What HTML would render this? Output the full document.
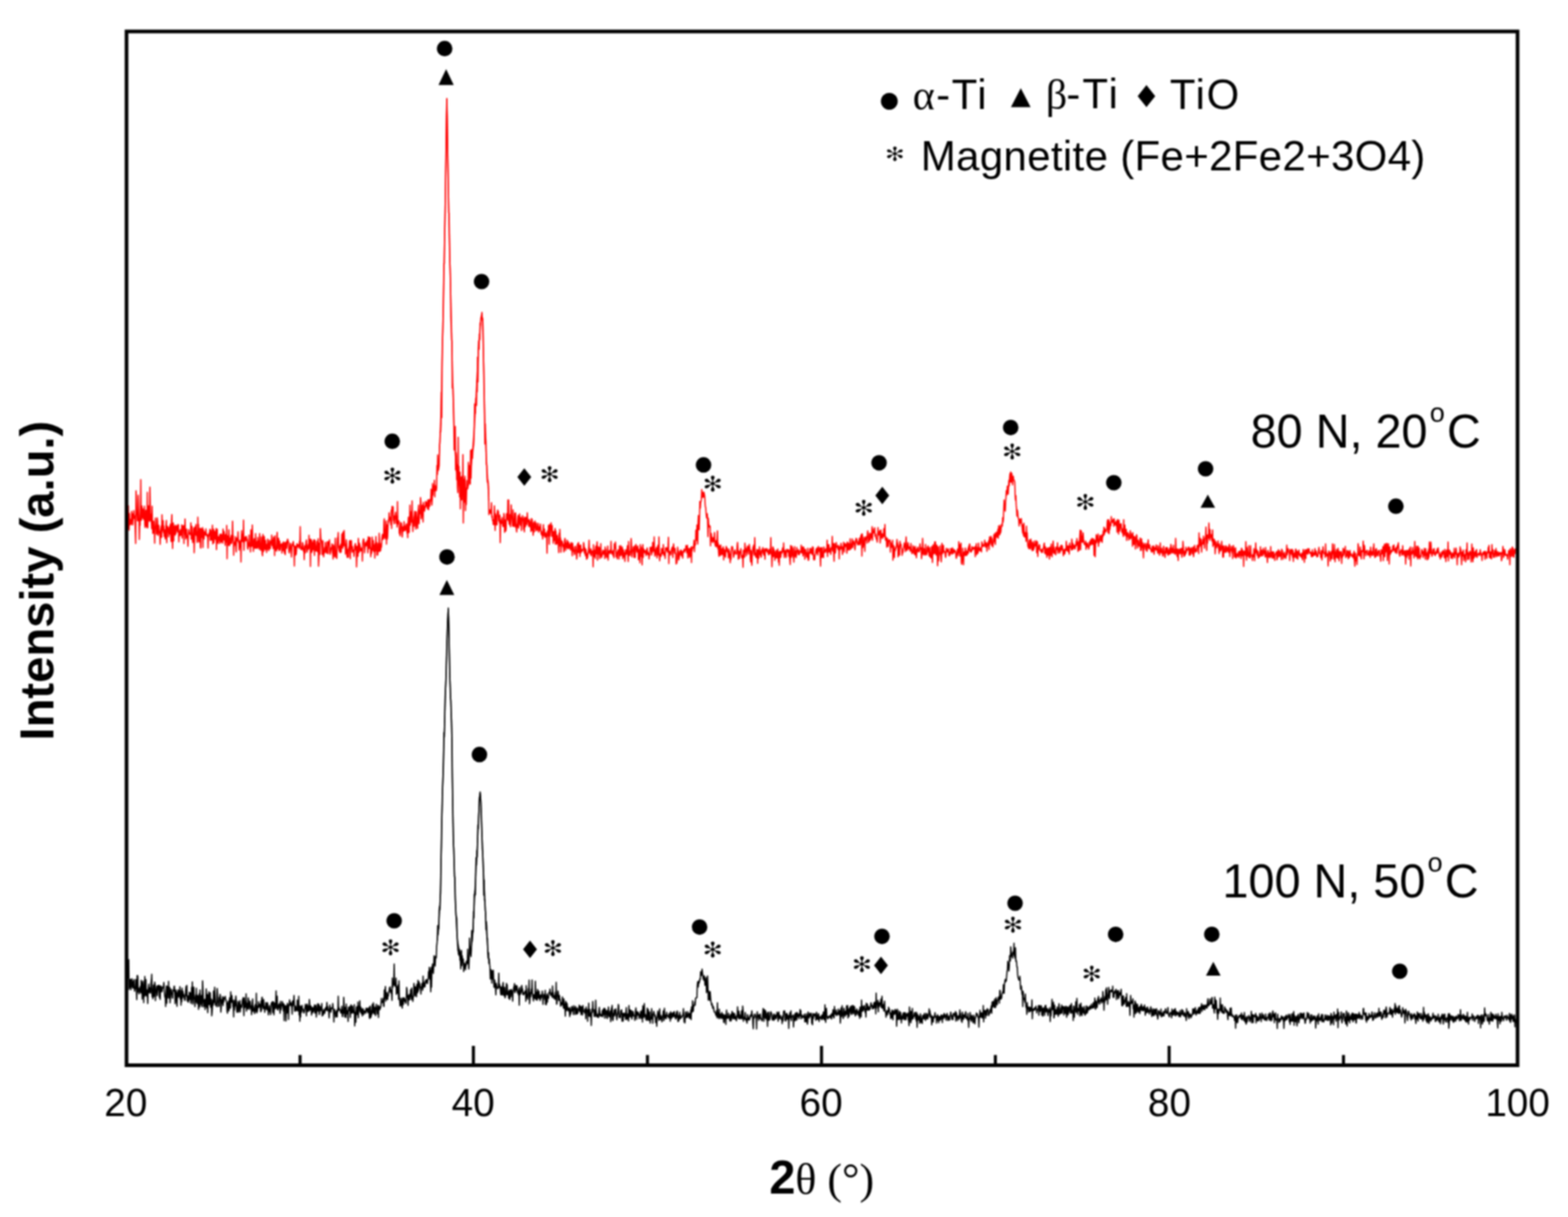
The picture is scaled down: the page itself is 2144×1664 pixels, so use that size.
<!DOCTYPE html>
<html><head><meta charset="utf-8"><title>XRD patterns</title>
<style>
html,body{margin:0;padding:0;background:#fff;width:2144px;height:1664px;overflow:hidden}
svg{display:block;filter:blur(1px)}
text{font-family:"Liberation Sans",Arial,sans-serif;fill:#000}
.tl{font-size:53px;text-anchor:middle}
.serif{font-family:"Liberation Serif","Times New Roman",serif}
.ast{font-size:31px;text-anchor:middle;dominant-baseline:central;font-family:"DejaVu Sans",sans-serif;stroke:#fff;stroke-width:0.45px}
.lg{font-size:57px}
.cond{font-size:64px}
</style></head>
<body>
<svg width="2144" height="1664" viewBox="0 0 2144 1664">
<rect x="0" y="0" width="2144" height="1664" fill="#fff"/>
<g fill="none" stroke-linejoin="round">
<polyline stroke="#ff0000" stroke-width="1.7" points="174.0,714.9 174.5,721.5 175.0,721.1 175.5,691.5 176.0,722.6 176.5,724.8 177.0,702.2 177.5,717.9 178.0,714.8 178.5,713.7 179.0,709.9 179.5,717.2 180.0,699.1 180.5,703.9 181.0,702.6 181.5,717.8 182.0,709.9 182.5,705.2 183.0,698.2 183.5,705.6 184.0,709.3 184.5,705.3 185.0,727.3 185.5,743.1 186.0,671.0 186.5,682.5 187.0,703.2 187.5,703.1 188.0,712.0 188.5,712.1 189.0,677.0 189.5,693.4 190.0,703.7 190.5,737.6 191.0,718.1 191.5,718.3 192.0,701.8 192.5,655.8 193.0,711.3 193.5,710.5 194.0,691.8 194.5,699.4 195.0,708.0 195.5,695.8 196.0,707.6 196.5,710.3 197.0,709.5 197.5,692.0 198.0,717.3 198.5,721.4 199.0,713.5 199.5,697.6 200.0,719.2 200.5,702.0 201.0,721.3 201.5,673.2 202.0,721.7 202.5,708.7 203.0,691.6 203.5,704.6 204.0,710.8 204.5,712.8 205.0,666.0 205.5,693.6 206.0,711.8 206.5,703.1 207.0,714.1 207.5,723.0 208.0,692.2 208.5,718.5 209.0,729.5 209.5,716.0 210.0,712.5 210.5,728.7 211.0,724.4 211.5,742.8 212.0,719.1 212.5,708.4 213.0,721.7 213.5,718.7 214.0,730.5 214.5,725.1 215.0,708.0 215.5,712.3 216.0,732.1 216.5,730.3 217.0,718.0 217.5,724.1 218.0,728.5 218.5,728.8 219.0,744.3 219.5,727.0 220.0,722.5 220.5,718.9 221.0,734.8 221.5,703.8 222.0,723.7 222.5,725.4 223.0,711.8 223.5,728.4 224.0,719.2 224.5,733.4 225.0,724.3 225.5,731.7 226.0,736.9 226.5,729.2 227.0,717.5 227.5,711.6 228.0,742.1 228.5,724.8 229.0,719.5 229.5,727.2 230.0,721.7 230.5,733.9 231.0,726.3 231.5,726.2 232.0,719.5 232.5,730.5 233.0,716.6 233.5,732.4 234.0,740.4 234.5,712.3 235.0,703.6 235.5,732.1 236.0,750.0 236.5,717.3 237.0,715.1 237.5,739.7 238.0,719.0 238.5,722.1 239.0,723.7 239.5,731.8 240.0,718.1 240.5,729.6 241.0,725.5 241.5,719.5 242.0,724.4 242.5,718.7 243.0,727.5 243.5,717.2 244.0,717.6 244.5,740.9 245.0,727.2 245.5,726.6 246.0,732.5 246.5,724.1 247.0,725.9 247.5,731.9 248.0,730.7 248.5,717.7 249.0,735.8 249.5,722.9 250.0,718.8 250.5,720.3 251.0,720.0 251.5,743.2 252.0,718.0 252.5,730.1 253.0,709.5 253.5,728.8 254.0,736.9 254.5,726.8 255.0,723.3 255.5,731.1 256.0,735.4 256.5,735.1 257.0,746.9 257.5,731.1 258.0,724.0 258.5,728.3 259.0,728.8 259.5,730.5 260.0,729.3 260.5,731.2 261.0,714.8 261.5,737.2 262.0,724.7 262.5,719.5 263.0,735.7 263.5,741.8 264.0,734.5 264.5,731.6 265.0,722.0 265.5,755.8 266.0,738.2 266.5,720.4 267.0,723.6 267.5,731.4 268.0,717.0 268.5,732.3 269.0,726.8 269.5,741.7 270.0,739.5 270.5,707.2 271.0,731.5 271.5,717.0 272.0,741.1 272.5,732.9 273.0,736.3 273.5,722.3 274.0,747.7 274.5,749.4 275.0,722.6 275.5,735.2 276.0,726.2 276.5,732.0 277.0,721.3 277.5,748.6 278.0,724.1 278.5,730.0 279.0,737.0 279.5,727.2 280.0,730.8 280.5,728.1 281.0,732.0 281.5,723.1 282.0,729.6 282.5,731.7 283.0,730.7 283.5,734.2 284.0,731.3 284.5,749.4 285.0,731.2 285.5,732.9 286.0,728.5 286.5,729.8 287.0,723.7 287.5,739.0 288.0,724.9 288.5,728.4 289.0,737.9 289.5,738.4 290.0,726.9 290.5,718.1 291.0,743.8 291.5,737.6 292.0,723.6 292.5,742.1 293.0,729.8 293.5,726.3 294.0,736.7 294.5,734.5 295.0,737.8 295.5,722.7 296.0,751.5 296.5,731.3 297.0,723.6 297.5,741.7 298.0,733.7 298.5,743.3 299.0,734.0 299.5,736.4 300.0,739.0 300.5,730.9 301.0,742.8 301.5,733.3 302.0,730.1 302.5,738.0 303.0,741.2 303.5,735.7 304.0,730.5 304.5,742.8 305.0,723.3 305.5,729.4 306.0,738.3 306.5,726.8 307.0,738.3 307.5,737.7 308.0,745.6 308.5,730.8 309.0,733.2 309.5,741.2 310.0,718.4 310.5,764.0 311.0,733.0 311.5,732.8 312.0,745.8 312.5,738.1 313.0,724.4 313.5,744.1 314.0,746.0 314.5,735.5 315.0,736.9 315.5,743.2 316.0,732.0 316.5,743.0 317.0,741.1 317.5,734.1 318.0,712.6 318.5,737.9 319.0,732.7 319.5,759.2 320.0,741.0 320.5,746.2 321.0,742.6 321.5,742.2 322.0,733.8 322.5,745.5 323.0,754.6 323.5,737.8 324.0,735.6 324.5,739.1 325.0,736.6 325.5,727.0 326.0,741.7 326.5,738.3 327.0,752.2 327.5,740.7 328.0,743.4 328.5,748.4 329.0,738.5 329.5,768.4 330.0,736.0 330.5,725.6 331.0,738.2 331.5,740.2 332.0,730.1 332.5,741.0 333.0,711.2 333.5,752.4 334.0,740.8 334.5,736.4 335.0,734.3 335.5,738.5 336.0,739.8 336.5,733.4 337.0,734.4 337.5,738.2 338.0,737.7 338.5,749.2 339.0,750.8 339.5,742.1 340.0,745.7 340.5,731.5 341.0,747.1 341.5,741.9 342.0,745.9 342.5,754.7 343.0,724.4 343.5,747.2 344.0,733.8 344.5,747.0 345.0,717.8 345.5,738.6 346.0,744.1 346.5,754.0 347.0,743.2 347.5,736.5 348.0,738.4 348.5,749.6 349.0,742.7 349.5,729.7 350.0,749.4 350.5,746.1 351.0,749.7 351.5,740.4 352.0,749.4 352.5,734.9 353.0,747.5 353.5,739.4 354.0,748.4 354.5,751.0 355.0,729.6 355.5,742.9 356.0,743.6 356.5,752.5 357.0,748.9 357.5,734.1 358.0,747.0 358.5,757.3 359.0,759.9 359.5,730.7 360.0,739.5 360.5,753.9 361.0,733.3 361.5,734.6 362.0,747.7 362.5,751.6 363.0,738.8 363.5,748.0 364.0,744.8 364.5,755.5 365.0,744.0 365.5,751.6 366.0,737.2 366.5,742.7 367.0,743.4 367.5,752.8 368.0,748.6 368.5,738.6 369.0,749.5 369.5,750.2 370.0,743.5 370.5,739.7 371.0,743.0 371.5,731.6 372.0,745.9 372.5,746.3 373.0,738.0 373.5,750.2 374.0,734.3 374.5,740.5 375.0,741.1 375.5,759.7 376.0,732.7 376.5,749.0 377.0,751.9 377.5,747.7 378.0,753.7 378.5,737.4 379.0,727.8 379.5,750.7 380.0,736.0 380.5,742.6 381.0,736.2 381.5,753.0 382.0,751.6 382.5,739.8 383.0,751.9 383.5,746.1 384.0,744.2 384.5,745.7 385.0,743.8 385.5,756.3 386.0,747.7 386.5,742.8 387.0,752.9 387.5,740.9 388.0,747.6 388.5,748.6 389.0,756.5 389.5,741.8 390.0,758.5 390.5,746.9 391.0,744.2 391.5,740.7 392.0,750.0 392.5,746.1 393.0,737.6 393.5,737.4 394.0,741.7 394.5,740.8 395.0,753.9 395.5,756.0 396.0,752.3 396.5,748.5 397.0,742.8 397.5,746.3 398.0,752.5 398.5,761.7 399.0,752.7 399.5,744.0 400.0,746.3 400.5,742.6 401.0,740.4 401.5,744.8 402.0,747.6 402.5,774.0 403.0,746.6 403.5,756.2 404.0,759.2 404.5,746.9 405.0,758.0 405.5,751.5 406.0,743.3 406.5,748.3 407.0,746.6 407.5,744.7 408.0,745.0 408.5,747.5 409.0,749.6 409.5,740.1 410.0,746.5 410.5,720.0 411.0,748.5 411.5,751.1 412.0,747.8 412.5,751.6 413.0,751.0 413.5,741.9 414.0,742.6 414.5,750.4 415.0,754.0 415.5,749.6 416.0,765.3 416.5,746.2 417.0,754.1 417.5,756.0 418.0,745.9 418.5,741.0 419.0,738.4 419.5,748.1 420.0,755.0 420.5,749.0 421.0,748.3 421.5,744.3 422.0,751.1 422.5,731.8 423.0,748.8 423.5,747.4 424.0,737.4 424.5,774.5 425.0,737.3 425.5,739.6 426.0,738.7 426.5,755.3 427.0,741.0 427.5,752.2 428.0,751.6 428.5,749.3 429.0,738.1 429.5,743.1 430.0,759.5 430.5,738.4 431.0,741.7 431.5,746.5 432.0,753.4 432.5,752.0 433.0,753.0 433.5,740.2 434.0,754.5 434.5,751.9 435.0,736.5 435.5,774.1 436.0,764.2 436.5,742.5 437.0,748.9 437.5,757.9 438.0,722.8 438.5,734.0 439.0,738.9 439.5,738.5 440.0,744.1 440.5,758.5 441.0,750.1 441.5,739.4 442.0,752.3 442.5,761.5 443.0,756.8 443.5,755.3 444.0,748.5 444.5,755.3 445.0,741.6 445.5,753.7 446.0,747.9 446.5,756.5 447.0,751.8 447.5,740.9 448.0,749.5 448.5,757.2 449.0,740.7 449.5,744.7 450.0,743.3 450.5,738.2 451.0,755.4 451.5,757.9 452.0,754.3 452.5,750.5 453.0,748.4 453.5,750.5 454.0,743.7 454.5,755.1 455.0,756.2 455.5,764.5 456.0,745.2 456.5,749.4 457.0,747.8 457.5,761.4 458.0,750.2 458.5,735.8 459.0,751.7 459.5,762.1 460.0,753.7 460.5,763.7 461.0,749.2 461.5,735.3 462.0,736.4 462.5,728.2 463.0,748.1 463.5,751.2 464.0,753.8 464.5,746.6 465.0,755.6 465.5,747.1 466.0,744.1 466.5,754.9 467.0,742.7 467.5,730.1 468.0,741.7 468.5,749.7 469.0,727.7 469.5,743.1 470.0,746.7 470.5,725.3 471.0,738.7 471.5,745.8 472.0,745.2 472.5,757.7 473.0,751.6 473.5,738.1 474.0,743.1 474.5,760.7 475.0,762.1 475.5,751.7 476.0,751.1 476.5,761.8 477.0,748.6 477.5,746.9 478.0,739.3 478.5,745.5 479.0,764.0 479.5,739.2 480.0,749.1 480.5,739.3 481.0,749.9 481.5,755.1 482.0,747.3 482.5,754.0 483.0,754.0 483.5,752.1 484.0,760.8 484.5,754.4 485.0,746.9 485.5,744.3 486.0,743.2 486.5,752.3 487.0,746.8 487.5,775.1 488.0,761.6 488.5,747.5 489.0,746.7 489.5,760.6 490.0,736.1 490.5,745.9 491.0,755.5 491.5,742.8 492.0,745.7 492.5,746.6 493.0,753.5 493.5,749.9 494.0,751.7 494.5,753.1 495.0,749.2 495.5,767.2 496.0,744.0 496.5,739.2 497.0,736.9 497.5,737.9 498.0,745.2 498.5,756.0 499.0,750.2 499.5,744.9 500.0,741.7 500.5,745.4 501.0,746.3 501.5,745.2 502.0,739.2 502.5,745.8 503.0,755.9 503.5,734.2 504.0,747.4 504.5,734.6 505.0,750.2 505.5,743.9 506.0,734.8 506.5,749.7 507.0,761.3 507.5,749.7 508.0,756.9 508.5,748.5 509.0,734.4 509.5,752.3 510.0,746.2 510.5,739.1 511.0,754.3 511.5,750.9 512.0,745.4 512.5,763.1 513.0,743.1 513.5,753.4 514.0,733.7 514.5,752.6 515.0,741.6 515.5,759.1 516.0,753.1 516.5,758.6 517.0,743.2 517.5,745.3 518.0,754.0 518.5,729.2 519.0,740.1 519.5,754.0 520.0,749.6 520.5,752.6 521.0,743.1 521.5,748.5 522.0,738.9 522.5,733.7 523.0,730.6 523.5,737.7 524.0,736.7 524.5,735.1 525.0,712.6 525.5,709.3 526.0,731.9 526.5,736.6 527.0,728.7 527.5,724.9 528.0,712.3 528.5,743.9 529.0,717.5 529.5,737.1 530.0,733.7 530.5,720.7 531.0,711.0 531.5,714.3 532.0,701.0 532.5,711.0 533.0,707.0 533.5,710.1 534.0,712.2 534.5,717.7 535.0,697.7 535.5,722.6 536.0,692.9 536.5,692.3 537.0,695.4 537.5,693.1 538.0,711.4 538.5,712.0 539.0,716.1 539.5,705.6 540.0,709.7 540.5,703.8 541.0,700.4 541.5,715.4 542.0,715.3 542.5,705.3 543.0,720.6 543.5,685.9 544.0,716.5 544.5,713.8 545.0,715.6 545.5,712.2 546.0,729.4 546.5,727.1 547.0,732.7 547.5,725.1 548.0,714.4 548.5,721.9 549.0,715.7 549.5,728.5 550.0,734.3 550.5,727.3 551.0,720.0 551.5,721.7 552.0,726.0 552.5,713.0 553.0,725.3 553.5,725.5 554.0,719.4 554.5,720.2 555.0,724.6 555.5,716.6 556.0,716.4 556.5,728.7 557.0,724.1 557.5,735.2 558.0,713.8 558.5,707.1 559.0,728.2 559.5,727.8 560.0,713.8 560.5,690.7 561.0,718.2 561.5,703.9 562.0,710.5 562.5,699.2 563.0,714.3 563.5,684.9 564.0,713.1 564.5,726.8 565.0,711.6 565.5,719.6 566.0,707.4 566.5,704.8 567.0,699.2 567.5,719.7 568.0,710.0 568.5,723.5 569.0,699.5 569.5,707.0 570.0,708.9 570.5,719.6 571.0,722.5 571.5,701.0 572.0,696.3 572.5,690.6 573.0,716.2 573.5,703.4 574.0,698.0 574.5,702.5 575.0,680.3 575.5,686.9 576.0,709.3 576.5,704.0 577.0,701.3 577.5,690.7 578.0,703.9 578.5,713.8 579.0,686.8 579.5,697.0 580.0,692.4 580.5,698.8 581.0,695.1 581.5,692.9 582.0,685.6 582.5,692.7 583.0,686.5 583.5,690.0 584.0,688.5 584.5,695.7 585.0,683.6 585.5,685.1 586.0,697.0 586.5,684.3 587.0,683.0 587.5,692.5 588.0,686.0 588.5,683.3 589.0,683.5 589.5,668.8 590.0,683.7 590.5,690.7 591.0,682.5 591.5,661.0 592.0,677.2 592.5,664.3 593.0,669.4 593.5,671.2 594.0,656.6 594.5,679.5 595.0,663.7 595.5,670.1 596.0,666.2 596.5,670.9 597.0,666.8 597.5,636.4 598.0,648.8 598.5,622.1 599.0,635.5 599.5,643.0 600.0,639.6 600.5,636.8 601.0,608.7 601.5,605.5 602.0,590.1 602.5,590.7 603.0,580.0 603.5,536.3 604.0,570.9 604.5,493.9 605.0,464.5 605.5,453.7 606.0,431.1 606.5,402.8 607.0,360.6 607.5,360.5 608.0,317.8 608.5,301.3 609.0,269.3 609.5,224.7 610.0,195.9 610.5,155.7 611.0,135.3 611.5,160.0 612.0,201.0 612.5,224.4 613.0,257.5 613.5,290.6 614.0,291.7 614.5,324.6 615.0,356.4 615.5,368.0 616.0,387.2 616.5,433.6 617.0,447.4 617.5,464.6 618.0,466.8 618.5,530.5 619.0,525.4 619.5,532.9 620.0,548.9 620.5,570.1 621.0,615.2 621.5,603.7 622.0,613.0 622.5,583.2 623.0,642.5 623.5,618.6 624.0,622.9 624.5,656.0 625.0,635.4 625.5,666.3 626.0,673.6 626.5,597.9 627.0,658.2 627.5,637.5 628.0,662.8 628.5,679.4 629.0,645.7 629.5,695.7 630.0,664.5 630.5,652.3 631.0,669.2 631.5,683.6 632.0,650.9 632.5,671.8 633.0,621.5 633.5,714.9 634.0,673.7 634.5,655.3 635.0,686.6 635.5,651.1 636.0,655.7 636.5,698.1 637.0,667.8 637.5,689.9 638.0,671.6 638.5,657.2 639.0,663.2 639.5,668.3 640.0,658.3 640.5,632.1 641.0,649.5 641.5,636.3 642.0,658.5 642.5,659.6 643.0,661.8 643.5,615.9 644.0,653.9 644.5,635.1 645.0,614.5 645.5,625.0 646.0,626.8 646.5,617.2 647.0,613.0 647.5,609.1 648.0,602.2 648.5,584.4 649.0,552.4 649.5,560.4 650.0,565.2 650.5,544.6 651.0,548.9 651.5,554.5 652.0,520.4 652.5,535.8 653.0,488.3 653.5,522.2 654.0,477.8 654.5,466.0 655.0,477.6 655.5,456.5 656.0,464.5 656.5,441.7 657.0,444.4 657.5,434.8 658.0,433.7 658.5,430.6 659.0,427.2 659.5,437.8 660.0,435.2 660.5,451.7 661.0,485.1 661.5,509.0 662.0,536.5 662.5,562.4 663.0,607.0 663.5,579.6 664.0,597.1 664.5,604.9 665.0,634.7 665.5,636.5 666.0,653.0 666.5,659.5 667.0,656.3 667.5,659.7 668.0,667.1 668.5,703.7 669.0,699.5 669.5,701.5 670.0,697.1 670.5,700.3 671.0,700.9 671.5,702.6 672.0,687.3 672.5,707.1 673.0,705.5 673.5,711.6 674.0,711.5 674.5,717.1 675.0,710.7 675.5,717.5 676.0,691.6 676.5,703.2 677.0,725.3 677.5,702.5 678.0,709.8 678.5,717.5 679.0,705.2 679.5,717.7 680.0,701.1 680.5,697.4 681.0,701.9 681.5,699.4 682.0,712.2 682.5,709.9 683.0,714.9 683.5,704.4 684.0,741.9 684.5,711.7 685.0,712.1 685.5,716.0 686.0,710.6 686.5,707.6 687.0,713.2 687.5,719.6 688.0,717.7 688.5,719.8 689.0,702.0 689.5,706.6 690.0,728.0 690.5,710.8 691.0,716.3 691.5,726.1 692.0,723.6 692.5,702.3 693.0,709.0 693.5,709.4 694.0,710.4 694.5,683.6 695.0,712.0 695.5,683.7 696.0,715.1 696.5,716.9 697.0,717.4 697.5,703.6 698.0,720.2 698.5,706.2 699.0,690.3 699.5,705.4 700.0,706.4 700.5,714.3 701.0,719.3 701.5,697.0 702.0,708.9 702.5,719.9 703.0,714.6 703.5,717.0 704.0,701.7 704.5,720.4 705.0,701.3 705.5,714.7 706.0,723.6 706.5,727.5 707.0,717.2 707.5,720.0 708.0,708.7 708.5,704.6 709.0,722.2 709.5,713.4 710.0,712.4 710.5,702.7 711.0,714.6 711.5,718.3 712.0,707.5 712.5,709.7 713.0,725.5 713.5,714.9 714.0,708.3 714.5,705.0 715.0,708.9 715.5,711.8 716.0,724.0 716.5,709.1 717.0,727.3 717.5,706.8 718.0,711.1 718.5,720.2 719.0,712.1 719.5,707.7 720.0,713.0 720.5,717.4 721.0,701.2 721.5,712.3 722.0,713.5 722.5,711.4 723.0,720.0 723.5,710.4 724.0,712.1 724.5,715.2 725.0,720.6 725.5,713.7 726.0,726.8 726.5,709.0 727.0,725.4 727.5,709.8 728.0,715.1 728.5,719.3 729.0,731.9 729.5,723.6 730.0,714.3 730.5,727.1 731.0,716.2 731.5,712.3 732.0,721.6 732.5,719.3 733.0,725.8 733.5,715.2 734.0,722.2 734.5,724.3 735.0,724.8 735.5,720.1 736.0,715.7 736.5,727.6 737.0,722.6 737.5,725.7 738.0,720.2 738.5,723.3 739.0,716.5 739.5,725.1 740.0,730.4 740.5,726.4 741.0,732.3 741.5,729.1 742.0,736.9 742.5,726.8 743.0,717.4 743.5,732.1 744.0,728.5 744.5,723.4 745.0,734.7 745.5,732.4 746.0,733.8 746.5,728.7 747.0,732.3 747.5,732.7 748.0,756.4 748.5,726.1 749.0,730.5 749.5,732.8 750.0,718.4 750.5,718.9 751.0,744.2 751.5,717.2 752.0,732.9 752.5,722.9 753.0,723.3 753.5,714.8 754.0,722.0 754.5,733.4 755.0,718.5 755.5,732.2 756.0,730.7 756.5,742.8 757.0,726.7 757.5,739.2 758.0,737.6 758.5,730.7 759.0,722.6 759.5,744.2 760.0,726.1 760.5,732.5 761.0,741.9 761.5,744.0 762.0,732.0 762.5,737.8 763.0,737.0 763.5,746.7 764.0,755.6 764.5,729.0 765.0,746.7 765.5,723.8 766.0,742.1 766.5,735.7 767.0,755.2 767.5,744.5 768.0,739.4 768.5,741.2 769.0,741.0 769.5,747.5 770.0,744.0 770.5,749.1 771.0,754.6 771.5,749.8 772.0,738.4 772.5,736.2 773.0,741.6 773.5,752.6 774.0,744.5 774.5,742.7 775.0,748.8 775.5,738.6 776.0,740.4 776.5,750.3 777.0,745.7 777.5,741.3 778.0,749.7 778.5,744.5 779.0,744.1 779.5,745.6 780.0,752.0 780.5,748.9 781.0,741.8 781.5,747.1 782.0,752.8 782.5,760.0 783.0,742.7 783.5,751.4 784.0,748.1 784.5,754.5 785.0,752.4 785.5,758.4 786.0,757.2 786.5,747.1 787.0,747.2 787.5,752.8 788.0,752.8 788.5,764.4 789.0,760.3 789.5,744.2 790.0,755.8 790.5,743.6 791.0,741.8 791.5,755.5 792.0,754.6 792.5,745.7 793.0,760.9 793.5,746.2 794.0,745.2 794.5,755.6 795.0,753.2 795.5,751.2 796.0,751.8 796.5,753.5 797.0,751.5 797.5,751.4 798.0,741.9 798.5,745.0 799.0,756.1 799.5,748.8 800.0,755.8 800.5,759.8 801.0,750.9 801.5,754.6 802.0,764.7 802.5,757.0 803.0,763.5 803.5,761.8 804.0,757.5 804.5,752.7 805.0,748.7 805.5,738.5 806.0,756.2 806.5,756.1 807.0,752.6 807.5,758.3 808.0,750.3 808.5,759.9 809.0,753.9 809.5,753.5 810.0,753.8 810.5,753.3 811.0,775.1 811.5,744.9 812.0,756.3 812.5,760.9 813.0,757.9 813.5,752.3 814.0,763.7 814.5,748.0 815.0,746.7 815.5,757.2 816.0,745.9 816.5,740.8 817.0,765.9 817.5,758.3 818.0,758.2 818.5,747.6 819.0,755.1 819.5,748.7 820.0,763.8 820.5,758.6 821.0,758.3 821.5,743.3 822.0,758.7 822.5,762.5 823.0,761.0 823.5,758.6 824.0,754.2 824.5,752.3 825.0,757.6 825.5,756.4 826.0,755.6 826.5,752.6 827.0,763.7 827.5,747.8 828.0,754.2 828.5,751.1 829.0,760.1 829.5,762.3 830.0,761.3 830.5,758.6 831.0,746.6 831.5,766.0 832.0,757.3 832.5,753.8 833.0,754.5 833.5,752.6 834.0,756.8 834.5,756.2 835.0,752.5 835.5,740.2 836.0,754.3 836.5,757.1 837.0,757.4 837.5,753.7 838.0,757.0 838.5,760.2 839.0,751.9 839.5,762.7 840.0,743.7 840.5,747.6 841.0,749.6 841.5,741.0 842.0,749.1 842.5,761.5 843.0,761.5 843.5,755.2 844.0,764.2 844.5,756.0 845.0,751.9 845.5,756.0 846.0,752.8 846.5,764.5 847.0,746.4 847.5,760.2 848.0,752.2 848.5,759.4 849.0,746.2 849.5,752.4 850.0,755.2 850.5,759.7 851.0,748.0 851.5,764.0 852.0,757.4 852.5,751.9 853.0,761.5 853.5,755.3 854.0,761.2 854.5,767.6 855.0,759.0 855.5,751.9 856.0,752.5 856.5,758.0 857.0,756.4 857.5,750.2 858.0,746.0 858.5,758.5 859.0,767.8 859.5,740.3 860.0,758.8 860.5,753.7 861.0,759.2 861.5,759.7 862.0,755.6 862.5,749.3 863.0,736.4 863.5,744.5 864.0,761.6 864.5,753.7 865.0,751.9 865.5,753.4 866.0,747.5 866.5,756.6 867.0,762.2 867.5,761.2 868.0,746.3 868.5,762.4 869.0,750.7 869.5,744.4 870.0,748.2 870.5,749.6 871.0,754.9 871.5,749.3 872.0,746.6 872.5,753.5 873.0,765.5 873.5,751.1 874.0,757.5 874.5,755.4 875.0,769.6 875.5,744.5 876.0,761.0 876.5,747.9 877.0,751.7 877.5,754.4 878.0,772.5 878.5,750.8 879.0,744.6 879.5,762.1 880.0,750.4 880.5,751.8 881.0,754.9 881.5,755.5 882.0,752.7 882.5,756.5 883.0,757.1 883.5,759.7 884.0,752.7 884.5,750.9 885.0,749.2 885.5,758.2 886.0,754.7 886.5,758.0 887.0,758.0 887.5,764.2 888.0,756.1 888.5,759.1 889.0,748.4 889.5,749.1 890.0,753.3 890.5,748.3 891.0,758.8 891.5,747.7 892.0,755.4 892.5,741.5 893.0,748.9 893.5,753.1 894.0,753.6 894.5,734.2 895.0,755.6 895.5,760.3 896.0,758.5 896.5,751.4 897.0,751.8 897.5,748.5 898.0,758.4 898.5,762.9 899.0,752.1 899.5,745.7 900.0,757.6 900.5,758.8 901.0,734.2 901.5,755.7 902.0,766.8 902.5,759.4 903.0,758.0 903.5,757.1 904.0,760.7 904.5,749.8 905.0,750.3 905.5,757.2 906.0,751.2 906.5,756.3 907.0,744.5 907.5,759.0 908.0,759.5 908.5,755.1 909.0,755.8 909.5,763.7 910.0,749.0 910.5,749.9 911.0,748.9 911.5,752.5 912.0,749.3 912.5,755.0 913.0,751.3 913.5,746.9 914.0,734.5 914.5,770.6 915.0,754.4 915.5,753.6 916.0,754.9 916.5,754.3 917.0,758.9 917.5,757.8 918.0,751.5 918.5,750.2 919.0,748.8 919.5,747.9 920.0,762.3 920.5,749.7 921.0,743.7 921.5,750.1 922.0,750.4 922.5,756.4 923.0,749.8 923.5,757.5 924.0,756.7 924.5,771.1 925.0,766.3 925.5,770.0 926.0,761.9 926.5,748.2 927.0,752.3 927.5,755.8 928.0,765.7 928.5,763.3 929.0,761.0 929.5,753.5 930.0,757.6 930.5,758.3 931.0,751.9 931.5,758.6 932.0,760.1 932.5,753.5 933.0,759.8 933.5,763.2 934.0,754.6 934.5,754.2 935.0,752.5 935.5,750.8 936.0,755.0 936.5,751.9 937.0,752.4 937.5,749.9 938.0,745.8 938.5,749.0 939.0,755.8 939.5,747.6 940.0,745.6 940.5,762.9 941.0,760.0 941.5,750.1 942.0,757.0 942.5,750.1 943.0,762.2 943.5,750.1 944.0,754.1 944.5,760.3 945.0,748.1 945.5,769.2 946.0,747.6 946.5,752.8 947.0,749.0 947.5,749.0 948.0,748.9 948.5,745.9 949.0,738.5 949.5,754.4 950.0,744.4 950.5,745.6 951.0,744.0 951.5,724.9 952.0,739.1 952.5,736.9 953.0,717.8 953.5,730.1 954.0,743.9 954.5,713.7 955.0,704.8 955.5,708.8 956.0,724.5 956.5,705.8 957.0,685.6 957.5,694.9 958.0,687.1 958.5,685.4 959.0,683.4 959.5,669.4 960.0,677.9 960.5,679.9 961.0,673.3 961.5,673.1 962.0,679.9 962.5,673.0 963.0,675.5 963.5,677.8 964.0,686.5 964.5,692.9 965.0,694.3 965.5,701.5 966.0,707.0 966.5,708.5 967.0,702.3 967.5,708.7 968.0,733.8 968.5,708.7 969.0,716.8 969.5,718.3 970.0,720.7 970.5,719.0 971.0,719.7 971.5,746.3 972.0,738.0 972.5,729.3 973.0,734.6 973.5,740.2 974.0,735.1 974.5,741.8 975.0,735.4 975.5,737.8 976.0,740.3 976.5,735.2 977.0,728.1 977.5,743.1 978.0,745.2 978.5,747.0 979.0,739.3 979.5,747.4 980.0,747.2 980.5,736.6 981.0,725.9 981.5,750.2 982.0,742.7 982.5,754.0 983.0,760.7 983.5,746.2 984.0,746.1 984.5,750.3 985.0,759.6 985.5,745.2 986.0,758.4 986.5,757.5 987.0,756.1 987.5,750.1 988.0,758.3 988.5,758.4 989.0,747.7 989.5,765.6 990.0,750.9 990.5,759.8 991.0,752.5 991.5,757.5 992.0,761.9 992.5,751.5 993.0,747.1 993.5,753.6 994.0,749.0 994.5,751.9 995.0,755.3 995.5,755.7 996.0,762.9 996.5,750.6 997.0,757.9 997.5,753.3 998.0,763.3 998.5,769.5 999.0,757.6 999.5,764.9 1000.0,753.1 1000.5,747.4 1001.0,749.2 1001.5,747.5 1002.0,750.8 1002.5,754.6 1003.0,762.0 1003.5,759.6 1004.0,758.3 1004.5,753.6 1005.0,752.0 1005.5,756.0 1006.0,756.6 1006.5,757.2 1007.0,757.8 1007.5,755.2 1008.0,745.5 1008.5,741.5 1009.0,751.4 1009.5,764.8 1010.0,753.4 1010.5,759.3 1011.0,763.5 1011.5,757.4 1012.0,753.6 1012.5,754.1 1013.0,750.2 1013.5,757.2 1014.0,761.6 1014.5,762.8 1015.0,759.7 1015.5,759.4 1016.0,775.7 1016.5,752.1 1017.0,756.3 1017.5,759.2 1018.0,762.1 1018.5,742.6 1019.0,748.8 1019.5,754.3 1020.0,749.9 1020.5,759.9 1021.0,756.5 1021.5,753.3 1022.0,746.7 1022.5,748.3 1023.0,750.1 1023.5,757.7 1024.0,748.8 1024.5,744.3 1025.0,747.6 1025.5,752.1 1026.0,764.1 1026.5,768.5 1027.0,752.6 1027.5,760.2 1028.0,773.0 1028.5,762.0 1029.0,754.5 1029.5,748.2 1030.0,752.5 1030.5,745.3 1031.0,756.4 1031.5,759.2 1032.0,735.0 1032.5,754.8 1033.0,756.6 1033.5,761.7 1034.0,762.3 1034.5,759.3 1035.0,751.4 1035.5,753.1 1036.0,770.3 1036.5,751.8 1037.0,754.8 1037.5,763.3 1038.0,755.7 1038.5,747.7 1039.0,753.4 1039.5,758.4 1040.0,754.0 1040.5,761.1 1041.0,761.8 1041.5,751.6 1042.0,752.3 1042.5,754.4 1043.0,748.7 1043.5,757.0 1044.0,754.0 1044.5,759.1 1045.0,751.8 1045.5,750.4 1046.0,764.7 1046.5,750.4 1047.0,751.9 1047.5,751.1 1048.0,753.4 1048.5,750.2 1049.0,754.8 1049.5,751.3 1050.0,752.8 1050.5,756.9 1051.0,758.7 1051.5,757.5 1052.0,751.1 1052.5,757.1 1053.0,754.4 1053.5,754.4 1054.0,735.0 1054.5,758.5 1055.0,754.3 1055.5,775.0 1056.0,758.4 1056.5,749.1 1057.0,747.8 1057.5,761.1 1058.0,750.4 1058.5,758.6 1059.0,753.4 1059.5,766.1 1060.0,755.4 1060.5,763.0 1061.0,762.0 1061.5,752.6 1062.0,753.3 1062.5,762.8 1063.0,755.0 1063.5,750.5 1064.0,761.4 1064.5,768.6 1065.0,754.9 1065.5,772.9 1066.0,754.3 1066.5,762.2 1067.0,753.9 1067.5,762.1 1068.0,758.0 1068.5,754.2 1069.0,756.4 1069.5,752.4 1070.0,749.3 1070.5,749.7 1071.0,755.0 1071.5,742.3 1072.0,757.6 1072.5,762.4 1073.0,757.8 1073.5,752.7 1074.0,756.5 1074.5,755.2 1075.0,762.3 1075.5,751.1 1076.0,753.3 1076.5,754.1 1077.0,754.6 1077.5,751.4 1078.0,752.1 1078.5,760.7 1079.0,752.0 1079.5,760.2 1080.0,766.0 1080.5,771.9 1081.0,745.9 1081.5,759.4 1082.0,761.9 1082.5,758.2 1083.0,746.9 1083.5,759.3 1084.0,749.7 1084.5,762.1 1085.0,761.0 1085.5,768.7 1086.0,753.3 1086.5,747.4 1087.0,760.8 1087.5,759.9 1088.0,753.3 1088.5,762.4 1089.0,758.9 1089.5,748.6 1090.0,753.5 1090.5,753.0 1091.0,754.8 1091.5,758.2 1092.0,751.7 1092.5,754.3 1093.0,758.4 1093.5,754.9 1094.0,753.9 1094.5,753.7 1095.0,754.8 1095.5,745.3 1096.0,756.2 1096.5,750.0 1097.0,755.9 1097.5,747.7 1098.0,760.1 1098.5,756.5 1099.0,748.3 1099.5,756.5 1100.0,751.4 1100.5,764.7 1101.0,757.9 1101.5,751.2 1102.0,756.5 1102.5,755.2 1103.0,761.6 1103.5,757.2 1104.0,762.2 1104.5,749.5 1105.0,765.7 1105.5,766.2 1106.0,763.8 1106.5,755.1 1107.0,756.2 1107.5,750.4 1108.0,756.3 1108.5,749.7 1109.0,756.4 1109.5,753.3 1110.0,751.0 1110.5,758.4 1111.0,747.6 1111.5,755.1 1112.0,748.5 1112.5,764.8 1113.0,765.6 1113.5,759.7 1114.0,765.2 1114.5,758.4 1115.0,758.2 1115.5,753.2 1116.0,750.7 1116.5,756.0 1117.0,749.1 1117.5,753.0 1118.0,759.0 1118.5,754.5 1119.0,747.1 1119.5,754.0 1120.0,751.1 1120.5,753.4 1121.0,749.2 1121.5,761.0 1122.0,774.1 1122.5,748.9 1123.0,757.9 1123.5,762.4 1124.0,748.9 1124.5,754.8 1125.0,761.5 1125.5,758.5 1126.0,762.4 1126.5,747.8 1127.0,749.9 1127.5,755.1 1128.0,755.4 1128.5,753.5 1129.0,751.3 1129.5,751.0 1130.0,749.9 1130.5,755.2 1131.0,738.5 1131.5,760.9 1132.0,749.7 1132.5,744.9 1133.0,755.0 1133.5,744.8 1134.0,753.9 1134.5,749.7 1135.0,754.7 1135.5,755.6 1136.0,758.0 1136.5,748.6 1137.0,749.5 1137.5,750.8 1138.0,733.4 1138.5,753.7 1139.0,751.2 1139.5,743.3 1140.0,756.5 1140.5,767.5 1141.0,743.0 1141.5,752.8 1142.0,756.2 1142.5,754.0 1143.0,744.3 1143.5,741.9 1144.0,748.0 1144.5,746.4 1145.0,748.9 1145.5,748.3 1146.0,751.5 1146.5,745.6 1147.0,747.6 1147.5,764.1 1148.0,747.5 1148.5,752.0 1149.0,749.5 1149.5,749.0 1150.0,742.9 1150.5,750.4 1151.0,747.2 1151.5,751.8 1152.0,758.2 1152.5,748.1 1153.0,751.1 1153.5,741.4 1154.0,747.4 1154.5,755.0 1155.0,746.2 1155.5,743.0 1156.0,747.4 1156.5,745.2 1157.0,744.8 1157.5,743.9 1158.0,756.5 1158.5,741.0 1159.0,743.3 1159.5,742.3 1160.0,752.0 1160.5,743.7 1161.0,752.1 1161.5,745.8 1162.0,744.6 1162.5,736.7 1163.0,751.1 1163.5,747.3 1164.0,749.7 1164.5,743.4 1165.0,741.7 1165.5,736.9 1166.0,748.8 1166.5,745.0 1167.0,741.4 1167.5,739.8 1168.0,743.7 1168.5,742.4 1169.0,751.8 1169.5,746.9 1170.0,739.2 1170.5,736.2 1171.0,740.8 1171.5,736.9 1172.0,742.2 1172.5,743.9 1173.0,745.0 1173.5,743.6 1174.0,740.1 1174.5,744.3 1175.0,735.8 1175.5,740.1 1176.0,744.9 1176.5,741.7 1177.0,732.7 1177.5,733.1 1178.0,730.3 1178.5,760.3 1179.0,730.0 1179.5,737.7 1180.0,748.6 1180.5,744.0 1181.0,745.0 1181.5,734.4 1182.0,741.2 1182.5,754.0 1183.0,736.1 1183.5,738.3 1184.0,733.8 1184.5,735.4 1185.0,737.2 1185.5,742.7 1186.0,729.2 1186.5,725.8 1187.0,733.9 1187.5,734.7 1188.0,741.4 1188.5,737.1 1189.0,729.0 1189.5,735.7 1190.0,738.7 1190.5,733.6 1191.0,729.7 1191.5,735.4 1192.0,729.2 1192.5,720.0 1193.0,738.8 1193.5,723.1 1194.0,728.6 1194.5,728.6 1195.0,728.4 1195.5,726.5 1196.0,721.7 1196.5,733.3 1197.0,730.3 1197.5,730.4 1198.0,736.6 1198.5,736.7 1199.0,738.2 1199.5,741.3 1200.0,733.1 1200.5,721.4 1201.0,731.8 1201.5,730.7 1202.0,731.1 1202.5,727.3 1203.0,725.7 1203.5,742.5 1204.0,736.9 1204.5,724.7 1205.0,734.7 1205.5,729.6 1206.0,729.8 1206.5,736.4 1207.0,732.6 1207.5,730.1 1208.0,734.1 1208.5,722.8 1209.0,731.4 1209.5,732.9 1210.0,717.1 1210.5,737.6 1211.0,738.7 1211.5,734.4 1212.0,737.4 1212.5,748.2 1213.0,745.5 1213.5,736.0 1214.0,742.7 1214.5,747.1 1215.0,741.8 1215.5,738.3 1216.0,738.8 1216.5,739.3 1217.0,738.3 1217.5,755.0 1218.0,741.5 1218.5,746.8 1219.0,746.0 1219.5,748.6 1220.0,743.4 1220.5,738.7 1221.0,765.9 1221.5,745.5 1222.0,746.8 1222.5,747.4 1223.0,762.4 1223.5,750.7 1224.0,753.0 1224.5,751.3 1225.0,748.0 1225.5,748.7 1226.0,743.6 1226.5,737.5 1227.0,746.5 1227.5,742.4 1228.0,761.5 1228.5,756.3 1229.0,754.4 1229.5,745.6 1230.0,759.3 1230.5,740.0 1231.0,742.7 1231.5,745.0 1232.0,744.2 1232.5,749.9 1233.0,750.4 1233.5,759.3 1234.0,754.7 1234.5,756.0 1235.0,752.0 1235.5,749.2 1236.0,746.5 1236.5,742.4 1237.0,745.8 1237.5,748.4 1238.0,754.3 1238.5,742.0 1239.0,734.0 1239.5,751.8 1240.0,745.5 1240.5,752.6 1241.0,746.0 1241.5,741.9 1242.0,744.4 1242.5,750.7 1243.0,747.6 1243.5,748.2 1244.0,748.2 1244.5,753.7 1245.0,752.3 1245.5,743.0 1246.0,750.8 1246.5,753.7 1247.0,757.0 1247.5,755.8 1248.0,752.9 1248.5,746.2 1249.0,748.1 1249.5,756.6 1250.0,748.6 1250.5,757.3 1251.0,758.6 1251.5,747.0 1252.0,754.5 1252.5,751.8 1253.0,762.6 1253.5,756.7 1254.0,750.0 1254.5,754.6 1255.0,748.0 1255.5,751.9 1256.0,753.8 1256.5,753.5 1257.0,754.4 1257.5,748.4 1258.0,743.7 1258.5,751.2 1259.0,748.6 1259.5,749.6 1260.0,763.8 1260.5,759.0 1261.0,752.4 1261.5,736.1 1262.0,746.8 1262.5,757.7 1263.0,758.7 1263.5,750.0 1264.0,754.2 1264.5,754.8 1265.0,758.9 1265.5,744.3 1266.0,754.4 1266.5,755.7 1267.0,758.5 1267.5,755.8 1268.0,748.4 1268.5,751.0 1269.0,746.3 1269.5,754.9 1270.0,755.0 1270.5,760.1 1271.0,749.2 1271.5,748.4 1272.0,761.7 1272.5,756.4 1273.0,762.9 1273.5,756.4 1274.0,747.0 1274.5,758.3 1275.0,769.1 1275.5,752.1 1276.0,744.9 1276.5,757.7 1277.0,753.8 1277.5,755.9 1278.0,741.2 1278.5,756.8 1279.0,740.9 1279.5,750.3 1280.0,759.0 1280.5,745.6 1281.0,745.4 1281.5,752.5 1282.0,773.6 1282.5,762.8 1283.0,747.5 1283.5,766.7 1284.0,757.7 1284.5,756.1 1285.0,756.6 1285.5,746.2 1286.0,758.8 1286.5,760.1 1287.0,768.3 1287.5,759.4 1288.0,742.8 1288.5,749.0 1289.0,756.6 1289.5,755.3 1290.0,745.7 1290.5,754.3 1291.0,753.2 1291.5,754.7 1292.0,754.4 1292.5,759.5 1293.0,762.2 1293.5,758.4 1294.0,749.5 1294.5,750.7 1295.0,751.7 1295.5,754.7 1296.0,752.9 1296.5,753.2 1297.0,750.4 1297.5,759.6 1298.0,759.1 1298.5,759.6 1299.0,754.5 1299.5,757.1 1300.0,750.4 1300.5,749.9 1301.0,752.2 1301.5,757.7 1302.0,754.1 1302.5,749.1 1303.0,755.2 1303.5,756.8 1304.0,755.5 1304.5,751.4 1305.0,754.9 1305.5,752.5 1306.0,753.0 1306.5,754.1 1307.0,758.2 1307.5,763.4 1308.0,762.1 1308.5,757.5 1309.0,752.4 1309.5,750.6 1310.0,752.9 1310.5,759.9 1311.0,740.6 1311.5,755.4 1312.0,744.3 1312.5,754.0 1313.0,760.5 1313.5,749.4 1314.0,742.6 1314.5,769.1 1315.0,771.5 1315.5,759.6 1316.0,759.8 1316.5,749.6 1317.0,767.3 1317.5,772.1 1318.0,756.5 1318.5,754.7 1319.0,759.5 1319.5,758.7 1320.0,749.4 1320.5,759.7 1321.0,756.6 1321.5,753.7 1322.0,759.2 1322.5,757.3 1323.0,756.3 1323.5,750.1 1324.0,756.6 1324.5,747.0 1325.0,751.7 1325.5,744.0 1326.0,743.9 1326.5,754.3 1327.0,751.6 1327.5,752.4 1328.0,754.8 1328.5,753.5 1329.0,747.3 1329.5,752.0 1330.0,751.2 1330.5,748.9 1331.0,750.7 1331.5,749.5 1332.0,748.0 1332.5,749.4 1333.0,752.1 1333.5,761.1 1334.0,746.8 1334.5,753.3 1335.0,743.4 1335.5,758.4 1336.0,748.7 1336.5,751.0 1337.0,756.5 1337.5,755.0 1338.0,742.6 1338.5,752.7 1339.0,748.6 1339.5,752.7 1340.0,750.3 1340.5,753.0 1341.0,750.7 1341.5,748.3 1342.0,754.7 1342.5,740.9 1343.0,746.3 1343.5,743.5 1344.0,747.3 1344.5,745.7 1345.0,746.8 1345.5,744.9 1346.0,744.7 1346.5,738.5 1347.0,746.4 1347.5,747.9 1348.0,743.0 1348.5,742.4 1349.0,742.2 1349.5,753.8 1350.0,745.9 1350.5,746.6 1351.0,742.7 1351.5,741.4 1352.0,739.1 1352.5,751.3 1353.0,734.1 1353.5,744.2 1354.0,742.0 1354.5,740.6 1355.0,733.3 1355.5,734.6 1356.0,745.9 1356.5,736.6 1357.0,744.5 1357.5,747.9 1358.0,741.9 1358.5,742.4 1359.0,731.2 1359.5,734.6 1360.0,740.3 1360.5,729.1 1361.0,744.5 1361.5,731.6 1362.0,733.6 1362.5,727.6 1363.0,734.6 1363.5,727.7 1364.0,729.6 1364.5,723.7 1365.0,736.0 1365.5,719.0 1366.0,729.9 1366.5,727.6 1367.0,731.3 1367.5,718.0 1368.0,728.8 1368.5,727.1 1369.0,721.0 1369.5,720.4 1370.0,716.0 1370.5,719.1 1371.0,707.8 1371.5,713.8 1372.0,710.0 1372.5,695.2 1373.0,683.7 1373.5,696.8 1374.0,692.9 1374.5,698.9 1375.0,687.5 1375.5,680.2 1376.0,670.8 1376.5,677.0 1377.0,670.7 1377.5,664.5 1378.0,669.4 1378.5,675.7 1379.0,666.6 1379.5,656.8 1380.0,664.2 1380.5,652.8 1381.0,647.6 1381.5,658.7 1382.0,645.4 1382.5,659.5 1383.0,656.7 1383.5,647.2 1384.0,654.6 1384.5,662.9 1385.0,655.0 1385.5,651.1 1386.0,655.6 1386.5,656.7 1387.0,657.0 1387.5,659.3 1388.0,675.1 1388.5,683.8 1389.0,677.6 1389.5,690.4 1390.0,695.9 1390.5,705.7 1391.0,697.4 1391.5,700.0 1392.0,707.7 1392.5,707.8 1393.0,711.1 1393.5,719.1 1394.0,710.1 1394.5,715.7 1395.0,709.9 1395.5,715.0 1396.0,714.6 1396.5,709.1 1397.0,718.0 1397.5,719.7 1398.0,725.6 1398.5,729.2 1399.0,717.1 1399.5,732.6 1400.0,715.4 1400.5,730.6 1401.0,734.4 1401.5,728.0 1402.0,731.6 1402.5,729.8 1403.0,740.2 1403.5,719.4 1404.0,732.4 1404.5,728.3 1405.0,740.5 1405.5,747.1 1406.0,747.2 1406.5,749.9 1407.0,743.3 1407.5,738.4 1408.0,748.9 1408.5,750.7 1409.0,739.0 1409.5,737.1 1410.0,740.7 1410.5,749.7 1411.0,750.9 1411.5,753.0 1412.0,741.1 1412.5,743.5 1413.0,752.5 1413.5,746.9 1414.0,749.9 1414.5,739.7 1415.0,744.7 1415.5,746.7 1416.0,745.2 1416.5,745.1 1417.0,739.3 1417.5,755.7 1418.0,749.5 1418.5,740.8 1419.0,760.9 1419.5,748.6 1420.0,752.0 1420.5,747.7 1421.0,744.9 1421.5,745.2 1422.0,750.7 1422.5,753.0 1423.0,751.7 1423.5,752.6 1424.0,755.4 1424.5,751.0 1425.0,754.6 1425.5,755.2 1426.0,751.3 1426.5,749.6 1427.0,747.9 1427.5,744.2 1428.0,742.5 1428.5,756.5 1429.0,750.1 1429.5,747.5 1430.0,757.8 1430.5,754.9 1431.0,750.5 1431.5,762.2 1432.0,749.3 1432.5,752.0 1433.0,759.1 1433.5,755.4 1434.0,748.9 1434.5,753.6 1435.0,764.4 1435.5,749.7 1436.0,748.2 1436.5,759.4 1437.0,748.8 1437.5,743.9 1438.0,751.0 1438.5,761.4 1439.0,753.4 1439.5,755.0 1440.0,739.8 1440.5,747.7 1441.0,756.3 1441.5,748.5 1442.0,756.8 1442.5,752.8 1443.0,752.4 1443.5,758.6 1444.0,748.0 1444.5,748.2 1445.0,750.9 1445.5,751.5 1446.0,742.2 1446.5,756.4 1447.0,751.5 1447.5,749.6 1448.0,753.4 1448.5,748.4 1449.0,756.2 1449.5,750.6 1450.0,753.8 1450.5,745.9 1451.0,748.9 1451.5,752.0 1452.0,745.6 1452.5,746.9 1453.0,749.8 1453.5,755.5 1454.0,759.8 1454.5,754.4 1455.0,751.4 1455.5,754.3 1456.0,757.4 1456.5,750.7 1457.0,751.9 1457.5,752.6 1458.0,740.0 1458.5,749.2 1459.0,751.7 1459.5,753.3 1460.0,746.7 1460.5,754.3 1461.0,746.4 1461.5,748.6 1462.0,757.6 1462.5,742.7 1463.0,748.9 1463.5,748.5 1464.0,748.7 1464.5,746.5 1465.0,752.2 1465.5,737.1 1466.0,742.5 1466.5,751.2 1467.0,743.0 1467.5,750.6 1468.0,748.8 1468.5,745.3 1469.0,746.9 1469.5,748.0 1470.0,750.6 1470.5,745.1 1471.0,746.9 1471.5,740.3 1472.0,745.4 1472.5,736.4 1473.0,744.9 1473.5,741.8 1474.0,753.9 1474.5,748.8 1475.0,740.4 1475.5,752.5 1476.0,740.8 1476.5,732.4 1477.0,724.9 1477.5,751.6 1478.0,738.7 1478.5,725.9 1479.0,739.6 1479.5,741.2 1480.0,733.0 1480.5,741.3 1481.0,728.7 1481.5,737.4 1482.0,739.5 1482.5,744.2 1483.0,743.1 1483.5,743.0 1484.0,745.4 1484.5,739.9 1485.0,751.2 1485.5,742.3 1486.0,748.2 1486.5,744.1 1487.0,742.9 1487.5,747.1 1488.0,746.3 1488.5,750.8 1489.0,749.4 1489.5,741.0 1490.0,746.4 1490.5,744.3 1491.0,739.6 1491.5,738.0 1492.0,744.8 1492.5,740.6 1493.0,736.2 1493.5,742.6 1494.0,744.1 1494.5,744.3 1495.0,736.6 1495.5,739.6 1496.0,759.4 1496.5,738.3 1497.0,740.4 1497.5,761.3 1498.0,743.5 1498.5,738.8 1499.0,731.0 1499.5,742.3 1500.0,733.1 1500.5,739.7 1501.0,734.8 1501.5,730.1 1502.0,747.0 1502.5,737.2 1503.0,742.1 1503.5,740.6 1504.0,732.2 1504.5,736.1 1505.0,733.1 1505.5,739.7 1506.0,736.2 1506.5,731.3 1507.0,741.6 1507.5,734.8 1508.0,733.8 1508.5,726.2 1509.0,732.0 1509.5,720.9 1510.0,730.9 1510.5,722.3 1511.0,727.8 1511.5,724.5 1512.0,726.7 1512.5,726.7 1513.0,723.7 1513.5,723.0 1514.0,714.0 1514.5,710.8 1515.0,728.3 1515.5,723.5 1516.0,710.6 1516.5,729.8 1517.0,713.5 1517.5,724.2 1518.0,718.8 1518.5,716.3 1519.0,718.7 1519.5,706.3 1520.0,714.1 1520.5,712.5 1521.0,714.5 1521.5,712.4 1522.0,710.2 1522.5,709.8 1523.0,719.6 1523.5,709.3 1524.0,716.8 1524.5,716.9 1525.0,714.4 1525.5,717.8 1526.0,718.7 1526.5,712.6 1527.0,718.0 1527.5,727.7 1528.0,710.4 1528.5,715.5 1529.0,713.4 1529.5,730.3 1530.0,711.1 1530.5,720.2 1531.0,726.3 1531.5,716.6 1532.0,721.7 1532.5,719.1 1533.0,716.2 1533.5,724.1 1534.0,727.8 1534.5,723.2 1535.0,728.1 1535.5,730.2 1536.0,733.5 1536.5,710.6 1537.0,731.1 1537.5,724.6 1538.0,717.9 1538.5,724.5 1539.0,732.7 1539.5,731.2 1540.0,723.8 1540.5,739.0 1541.0,732.7 1541.5,730.5 1542.0,728.2 1542.5,733.8 1543.0,729.8 1543.5,738.4 1544.0,734.2 1544.5,736.2 1545.0,731.5 1545.5,725.6 1546.0,736.7 1546.5,728.8 1547.0,734.0 1547.5,734.7 1548.0,731.1 1548.5,746.9 1549.0,728.4 1549.5,744.3 1550.0,733.7 1550.5,742.3 1551.0,744.4 1551.5,733.6 1552.0,734.8 1552.5,750.7 1553.0,741.9 1553.5,740.5 1554.0,731.2 1554.5,732.6 1555.0,744.2 1555.5,749.3 1556.0,738.9 1556.5,738.6 1557.0,744.5 1557.5,746.2 1558.0,747.1 1558.5,742.6 1559.0,735.6 1559.5,752.7 1560.0,743.5 1560.5,752.4 1561.0,736.9 1561.5,748.7 1562.0,744.8 1562.5,742.2 1563.0,752.4 1563.5,762.8 1564.0,745.2 1564.5,751.2 1565.0,743.1 1565.5,745.4 1566.0,747.3 1566.5,747.0 1567.0,751.8 1567.5,743.1 1568.0,753.6 1568.5,753.7 1569.0,748.2 1569.5,743.7 1570.0,738.1 1570.5,749.3 1571.0,746.3 1571.5,750.3 1572.0,744.9 1572.5,750.0 1573.0,749.8 1573.5,750.3 1574.0,753.6 1574.5,751.8 1575.0,755.1 1575.5,746.9 1576.0,754.1 1576.5,751.6 1577.0,749.0 1577.5,746.3 1578.0,757.9 1578.5,753.9 1579.0,748.9 1579.5,751.7 1580.0,751.5 1580.5,749.1 1581.0,745.2 1581.5,752.4 1582.0,751.0 1582.5,750.6 1583.0,756.5 1583.5,746.0 1584.0,747.7 1584.5,752.9 1585.0,756.1 1585.5,759.2 1586.0,755.8 1586.5,742.3 1587.0,754.8 1587.5,754.5 1588.0,755.8 1588.5,749.6 1589.0,755.2 1589.5,757.5 1590.0,760.4 1590.5,754.2 1591.0,746.9 1591.5,753.3 1592.0,756.1 1592.5,758.9 1593.0,762.1 1593.5,752.4 1594.0,748.6 1594.5,750.4 1595.0,756.5 1595.5,749.8 1596.0,748.7 1596.5,749.7 1597.0,759.2 1597.5,754.7 1598.0,752.1 1598.5,757.6 1599.0,756.9 1599.5,749.3 1600.0,757.6 1600.5,755.0 1601.0,744.3 1601.5,748.4 1602.0,755.1 1602.5,756.2 1603.0,752.6 1603.5,749.3 1604.0,755.1 1604.5,745.5 1605.0,756.6 1605.5,753.3 1606.0,753.9 1606.5,751.0 1607.0,757.9 1607.5,736.2 1608.0,750.1 1608.5,756.8 1609.0,750.8 1609.5,760.8 1610.0,756.0 1610.5,750.5 1611.0,766.5 1611.5,753.2 1612.0,756.7 1612.5,751.2 1613.0,751.2 1613.5,757.3 1614.0,754.4 1614.5,750.4 1615.0,749.8 1615.5,756.8 1616.0,761.9 1616.5,749.9 1617.0,756.8 1617.5,740.2 1618.0,747.2 1618.5,756.6 1619.0,760.8 1619.5,753.7 1620.0,759.6 1620.5,754.4 1621.0,757.8 1621.5,748.1 1622.0,755.9 1622.5,750.9 1623.0,751.2 1623.5,752.6 1624.0,751.6 1624.5,748.9 1625.0,751.2 1625.5,747.9 1626.0,758.9 1626.5,755.2 1627.0,749.9 1627.5,759.1 1628.0,757.5 1628.5,753.7 1629.0,748.8 1629.5,752.4 1630.0,753.7 1630.5,757.3 1631.0,749.9 1631.5,747.9 1632.0,761.1 1632.5,756.7 1633.0,751.5 1633.5,745.6 1634.0,752.0 1634.5,754.8 1635.0,752.9 1635.5,753.1 1636.0,749.9 1636.5,754.2 1637.0,745.8 1637.5,746.4 1638.0,745.9 1638.5,744.9 1639.0,757.0 1639.5,728.7 1640.0,748.0 1640.5,735.3 1641.0,739.9 1641.5,745.8 1642.0,737.1 1642.5,743.7 1643.0,754.9 1643.5,742.4 1644.0,744.6 1644.5,737.5 1645.0,743.6 1645.5,733.1 1646.0,740.9 1646.5,738.6 1647.0,749.6 1647.5,737.3 1648.0,735.1 1648.5,733.3 1649.0,720.7 1649.5,738.9 1650.0,752.7 1650.5,731.8 1651.0,742.6 1651.5,731.3 1652.0,735.2 1652.5,735.6 1653.0,715.2 1653.5,729.5 1654.0,738.8 1654.5,724.2 1655.0,734.7 1655.5,733.4 1656.0,730.9 1656.5,736.6 1657.0,738.5 1657.5,740.2 1658.0,724.5 1658.5,747.2 1659.0,736.7 1659.5,744.9 1660.0,739.4 1660.5,737.5 1661.0,740.6 1661.5,757.3 1662.0,749.6 1662.5,740.5 1663.0,743.8 1663.5,748.7 1664.0,746.5 1664.5,744.5 1665.0,743.6 1665.5,739.6 1666.0,749.0 1666.5,751.1 1667.0,757.0 1667.5,743.9 1668.0,750.0 1668.5,747.0 1669.0,753.5 1669.5,747.3 1670.0,744.9 1670.5,740.2 1671.0,751.9 1671.5,749.5 1672.0,761.8 1672.5,746.6 1673.0,761.7 1673.5,746.3 1674.0,752.3 1674.5,752.1 1675.0,755.5 1675.5,749.8 1676.0,746.5 1676.5,746.4 1677.0,755.0 1677.5,751.9 1678.0,753.2 1678.5,748.0 1679.0,752.7 1679.5,753.2 1680.0,755.3 1680.5,745.9 1681.0,744.3 1681.5,761.0 1682.0,751.4 1682.5,753.0 1683.0,751.7 1683.5,746.8 1684.0,748.9 1684.5,755.8 1685.0,751.2 1685.5,763.8 1686.0,747.7 1686.5,745.8 1687.0,753.1 1687.5,749.4 1688.0,761.6 1688.5,753.4 1689.0,761.2 1689.5,749.0 1690.0,763.1 1690.5,758.8 1691.0,761.7 1691.5,757.0 1692.0,758.5 1692.5,757.0 1693.0,760.6 1693.5,754.5 1694.0,762.5 1694.5,753.9 1695.0,759.9 1695.5,755.4 1696.0,753.7 1696.5,753.6 1697.0,763.6 1697.5,749.7 1698.0,750.0 1698.5,759.9 1699.0,752.3 1699.5,754.8 1700.0,754.7 1700.5,774.6 1701.0,753.8 1701.5,753.6 1702.0,755.2 1702.5,758.0 1703.0,759.3 1703.5,740.6 1704.0,759.0 1704.5,766.0 1705.0,748.7 1705.5,759.6 1706.0,760.5 1706.5,757.7 1707.0,754.8 1707.5,746.1 1708.0,762.5 1708.5,755.5 1709.0,756.0 1709.5,762.6 1710.0,746.2 1710.5,756.7 1711.0,759.7 1711.5,760.3 1712.0,759.8 1712.5,766.4 1713.0,758.3 1713.5,761.7 1714.0,760.5 1714.5,750.2 1715.0,753.4 1715.5,766.6 1716.0,755.7 1716.5,756.7 1717.0,742.4 1717.5,755.4 1718.0,750.9 1718.5,754.2 1719.0,759.5 1719.5,753.2 1720.0,754.2 1720.5,763.2 1721.0,759.2 1721.5,759.4 1722.0,761.6 1722.5,754.5 1723.0,755.2 1723.5,747.5 1724.0,760.4 1724.5,756.0 1725.0,757.0 1725.5,752.0 1726.0,759.9 1726.5,759.9 1727.0,757.8 1727.5,749.7 1728.0,753.1 1728.5,756.8 1729.0,753.1 1729.5,758.8 1730.0,761.6 1730.5,748.6 1731.0,756.2 1731.5,753.8 1732.0,761.7 1732.5,761.1 1733.0,769.2 1733.5,757.0 1734.0,752.7 1734.5,761.5 1735.0,755.9 1735.5,757.9 1736.0,762.7 1736.5,755.7 1737.0,760.3 1737.5,747.3 1738.0,761.9 1738.5,757.6 1739.0,755.9 1739.5,754.7 1740.0,763.5 1740.5,754.7 1741.0,762.8 1741.5,754.7 1742.0,757.2 1742.5,758.7 1743.0,766.3 1743.5,758.2 1744.0,758.1 1744.5,756.7 1745.0,755.7 1745.5,754.3 1746.0,765.4 1746.5,763.8 1747.0,753.9 1747.5,757.8 1748.0,751.7 1748.5,761.4 1749.0,760.2 1749.5,757.6 1750.0,753.4 1750.5,760.6 1751.0,759.9 1751.5,756.2 1752.0,765.3 1752.5,750.9 1753.0,754.3 1753.5,752.7 1754.0,757.6 1754.5,764.7 1755.0,757.3 1755.5,762.3 1756.0,756.9 1756.5,755.2 1757.0,761.7 1757.5,759.5 1758.0,763.6 1758.5,761.5 1759.0,753.3 1759.5,745.4 1760.0,758.6 1760.5,751.7 1761.0,750.6 1761.5,750.3 1762.0,754.1 1762.5,756.1 1763.0,757.1 1763.5,766.4 1764.0,751.5 1764.5,757.0 1765.0,751.3 1765.5,752.5 1766.0,757.3 1766.5,758.9 1767.0,751.1 1767.5,762.3 1768.0,752.8 1768.5,767.6 1769.0,756.8 1769.5,761.2 1770.0,759.6 1770.5,755.7 1771.0,762.3 1771.5,750.9 1772.0,751.1 1772.5,755.4 1773.0,763.3 1773.5,753.6 1774.0,754.3 1774.5,764.6 1775.0,757.2 1775.5,757.0 1776.0,752.2 1776.5,757.3 1777.0,759.7 1777.5,756.8 1778.0,760.5 1778.5,758.5 1779.0,761.8 1779.5,760.8 1780.0,756.4 1780.5,761.0 1781.0,765.3 1781.5,758.4 1782.0,751.4 1782.5,757.9 1783.0,754.8 1783.5,768.9 1784.0,760.5 1784.5,751.9 1785.0,756.1 1785.5,763.7 1786.0,751.7 1786.5,754.7 1787.0,757.0 1787.5,756.3 1788.0,750.4 1788.5,757.6 1789.0,750.5 1789.5,754.3 1790.0,750.3 1790.5,755.6 1791.0,755.6 1791.5,756.9 1792.0,755.3 1792.5,755.0 1793.0,760.8 1793.5,761.0 1794.0,761.3 1794.5,751.7 1795.0,759.5 1795.5,760.3 1796.0,755.7 1796.5,759.0 1797.0,755.9 1797.5,758.6 1798.0,750.0 1798.5,759.0 1799.0,754.7 1799.5,753.5 1800.0,755.5 1800.5,761.4 1801.0,761.2 1801.5,758.0 1802.0,760.8 1802.5,755.0 1803.0,751.2 1803.5,748.4 1804.0,756.7 1804.5,756.2 1805.0,757.0 1805.5,757.2 1806.0,762.4 1806.5,752.7 1807.0,753.4 1807.5,765.6 1808.0,760.4 1808.5,755.5 1809.0,747.6 1809.5,753.0 1810.0,755.2 1810.5,756.5 1811.0,757.7 1811.5,755.8 1812.0,762.1 1812.5,743.7 1813.0,755.6 1813.5,753.8 1814.0,760.4 1814.5,758.6 1815.0,760.4 1815.5,757.2 1816.0,773.9 1816.5,760.1 1817.0,753.4 1817.5,756.8 1818.0,755.0 1818.5,760.3 1819.0,767.2 1819.5,758.6 1820.0,756.0 1820.5,753.8 1821.0,764.2 1821.5,762.0 1822.0,743.6 1822.5,757.2 1823.0,753.1 1823.5,755.2 1824.0,764.6 1824.5,744.4 1825.0,752.2 1825.5,768.1 1826.0,754.8 1826.5,755.9 1827.0,762.1 1827.5,751.3 1828.0,757.1 1828.5,759.6 1829.0,763.4 1829.5,749.6 1830.0,753.2 1830.5,756.4 1831.0,766.9 1831.5,754.1 1832.0,759.1 1832.5,754.7 1833.0,755.2 1833.5,762.8 1834.0,754.4 1834.5,770.5 1835.0,758.6 1835.5,762.1 1836.0,760.4 1836.5,749.9 1837.0,750.0 1837.5,759.2 1838.0,752.0 1838.5,754.5 1839.0,755.5 1839.5,747.0 1840.0,762.4 1840.5,760.5 1841.0,757.8 1841.5,759.5 1842.0,752.9 1842.5,761.0 1843.0,753.1 1843.5,764.1 1844.0,754.0 1844.5,754.5 1845.0,762.3 1845.5,759.9 1846.0,752.7 1846.5,759.7 1847.0,757.0 1847.5,757.1 1848.0,759.8 1848.5,759.8 1849.0,761.6 1849.5,759.2 1850.0,758.5 1850.5,756.6 1851.0,763.8 1851.5,753.5 1852.0,765.7 1852.5,774.2 1853.0,766.8 1853.5,756.4 1854.0,766.6 1854.5,762.2 1855.0,761.9 1855.5,772.0 1856.0,757.9 1856.5,759.6 1857.0,743.4 1857.5,747.0 1858.0,758.4 1858.5,759.0 1859.0,760.2 1859.5,758.4 1860.0,748.0 1860.5,758.7 1861.0,762.1 1861.5,764.2 1862.0,752.8 1862.5,753.0 1863.0,753.9 1863.5,754.1 1864.0,739.8 1864.5,753.9 1865.0,764.2 1865.5,745.5 1866.0,748.5 1866.5,755.7 1867.0,754.7 1867.5,760.0 1868.0,753.6 1868.5,755.0 1869.0,753.1 1869.5,752.5 1870.0,758.6 1870.5,757.4 1871.0,756.6 1871.5,759.2 1872.0,753.1 1872.5,756.9 1873.0,758.9 1873.5,762.1 1874.0,748.1 1874.5,755.1 1875.0,758.7 1875.5,754.0 1876.0,757.0 1876.5,759.6 1877.0,758.7 1877.5,748.6 1878.0,751.0 1878.5,743.6 1879.0,759.3 1879.5,757.2 1880.0,762.3 1880.5,756.4 1881.0,751.0 1881.5,761.0 1882.0,750.1 1882.5,756.0 1883.0,755.0 1883.5,759.4 1884.0,760.0 1884.5,753.9 1885.0,752.5 1885.5,755.5 1886.0,753.1 1886.5,759.9 1887.0,757.3 1887.5,761.8 1888.0,767.3 1888.5,751.5 1889.0,752.6 1889.5,757.5 1890.0,757.1 1890.5,753.6 1891.0,747.4 1891.5,766.6 1892.0,755.4 1892.5,749.6 1893.0,744.0 1893.5,761.2 1894.0,756.2 1894.5,754.7 1895.0,743.3 1895.5,754.1 1896.0,750.2 1896.5,743.1 1897.0,766.5 1897.5,756.3 1898.0,752.7 1898.5,743.6 1899.0,751.4 1899.5,771.2 1900.0,755.8 1900.5,747.8 1901.0,757.8 1901.5,755.9 1902.0,755.9 1902.5,752.8 1903.0,752.5 1903.5,754.1 1904.0,752.0 1904.5,746.4 1905.0,748.1 1905.5,752.6 1906.0,745.1 1906.5,751.7 1907.0,750.7 1907.5,755.4 1908.0,752.7 1908.5,750.6 1909.0,748.7 1909.5,756.6 1910.0,756.3 1910.5,747.3 1911.0,745.3 1911.5,749.0 1912.0,742.1 1912.5,749.3 1913.0,756.8 1913.5,757.7 1914.0,760.5 1914.5,754.1 1915.0,754.8 1915.5,751.6 1916.0,752.2 1916.5,756.1 1917.0,759.2 1917.5,757.2 1918.0,746.2 1918.5,757.9 1919.0,755.8 1919.5,753.2 1920.0,757.4 1920.5,760.1 1921.0,756.7 1921.5,752.8 1922.0,771.3 1922.5,753.3 1923.0,758.4 1923.5,762.0 1924.0,752.5 1924.5,758.9 1925.0,752.6 1925.5,755.3 1926.0,753.1 1926.5,764.6 1927.0,750.4 1927.5,759.0 1928.0,756.9 1928.5,747.8 1929.0,774.0 1929.5,754.3 1930.0,755.7 1930.5,757.9 1931.0,752.9 1931.5,748.5 1932.0,756.6 1932.5,753.1 1933.0,757.6 1933.5,762.9 1934.0,752.6 1934.5,740.3 1935.0,756.7 1935.5,759.1 1936.0,760.4 1936.5,752.4 1937.0,746.8 1937.5,761.4 1938.0,760.7 1938.5,764.3 1939.0,746.9 1939.5,760.1 1940.0,762.1 1940.5,749.3 1941.0,762.4 1941.5,764.1 1942.0,760.3 1942.5,760.1 1943.0,761.1 1943.5,756.6 1944.0,751.3 1944.5,753.6 1945.0,757.0 1945.5,754.0 1946.0,762.4 1946.5,756.0 1947.0,757.3 1947.5,749.9 1948.0,759.6 1948.5,754.7 1949.0,764.7 1949.5,750.1 1950.0,759.3 1950.5,756.1 1951.0,756.3 1951.5,765.5 1952.0,762.2 1952.5,754.1 1953.0,764.2 1953.5,750.7 1954.0,761.5 1954.5,741.0 1955.0,756.4 1955.5,756.6 1956.0,756.4 1956.5,741.0 1957.0,749.4 1957.5,757.8 1958.0,760.6 1958.5,758.1 1959.0,756.4 1959.5,751.2 1960.0,756.7 1960.5,755.4 1961.0,750.0 1961.5,758.7 1962.0,758.7 1962.5,759.7 1963.0,756.8 1963.5,754.2 1964.0,757.0 1964.5,756.5 1965.0,750.6 1965.5,756.3 1966.0,750.5 1966.5,749.1 1967.0,754.2 1967.5,755.0 1968.0,761.0 1968.5,756.5 1969.0,760.3 1969.5,764.3 1970.0,758.4 1970.5,759.6 1971.0,754.8 1971.5,761.6 1972.0,758.1 1972.5,758.2 1973.0,752.9 1973.5,753.7 1974.0,754.9 1974.5,758.4 1975.0,762.8 1975.5,751.1 1976.0,756.3 1976.5,756.5 1977.0,768.0 1977.5,757.0 1978.0,752.0 1978.5,761.2 1979.0,752.9 1979.5,760.3 1980.0,741.1 1980.5,766.9 1981.0,757.7 1981.5,756.0 1982.0,752.0 1982.5,757.2 1983.0,758.2 1983.5,754.6 1984.0,763.2 1984.5,756.4 1985.0,758.3 1985.5,759.1 1986.0,763.9 1986.5,756.2 1987.0,758.2 1987.5,759.2 1988.0,760.6 1988.5,749.7 1989.0,763.0 1989.5,757.4 1990.0,754.7 1990.5,757.8 1991.0,749.3 1991.5,754.5 1992.0,758.7 1992.5,772.3 1993.0,757.5 1993.5,759.7 1994.0,756.6 1994.5,761.8 1995.0,756.1 1995.5,760.0 1996.0,756.4 1996.5,747.5 1997.0,753.5 1997.5,750.9 1998.0,763.1 1998.5,772.1 1999.0,757.0 1999.5,754.7 2000.0,760.3 2000.5,760.1 2001.0,752.2 2001.5,766.5 2002.0,761.8 2002.5,762.1 2003.0,758.2 2003.5,758.5 2004.0,768.3 2004.5,751.8 2005.0,754.4 2005.5,758.3 2006.0,742.3 2006.5,765.3 2007.0,755.2 2007.5,756.0 2008.0,759.4 2008.5,764.7 2009.0,757.8 2009.5,754.5 2010.0,753.8 2010.5,759.0 2011.0,755.4 2011.5,768.5 2012.0,763.5 2012.5,743.9 2013.0,753.8 2013.5,759.5 2014.0,768.2 2014.5,749.0 2015.0,755.9 2015.5,763.2 2016.0,754.8 2016.5,758.2 2017.0,755.7 2017.5,760.9 2018.0,753.0 2018.5,758.0 2019.0,751.4 2019.5,762.2 2020.0,760.5 2020.5,757.7 2021.0,758.2 2021.5,758.0 2022.0,756.2 2022.5,758.5 2023.0,759.5 2023.5,757.5 2024.0,751.5 2024.5,756.0 2025.0,755.8 2025.5,759.8 2026.0,758.5 2026.5,766.5 2027.0,757.0 2027.5,758.1 2028.0,755.0 2028.5,758.2 2029.0,755.8 2029.5,754.0 2030.0,758.5 2030.5,764.8 2031.0,753.9 2031.5,754.9 2032.0,757.6 2032.5,758.8 2033.0,763.5 2033.5,754.8 2034.0,756.2 2034.5,754.2 2035.0,748.3 2035.5,755.6 2036.0,745.7 2036.5,762.3 2037.0,762.3 2037.5,755.3 2038.0,754.5 2038.5,763.4 2039.0,756.6 2039.5,764.1 2040.0,744.7 2040.5,756.8 2041.0,753.0 2041.5,751.7 2042.0,761.0 2042.5,762.2 2043.0,756.7 2043.5,761.6 2044.0,752.5 2044.5,758.6 2045.0,756.7 2045.5,749.9 2046.0,761.4 2046.5,754.4 2047.0,759.3 2047.5,754.0 2048.0,758.2 2048.5,760.1 2049.0,757.4 2049.5,755.3 2050.0,760.0 2050.5,758.3 2051.0,755.5 2051.5,757.5 2052.0,757.0 2052.5,755.8 2053.0,766.7 2053.5,765.0 2054.0,755.1 2054.5,756.8 2055.0,747.2 2055.5,751.4 2056.0,762.3 2056.5,754.3 2057.0,758.8 2057.5,751.3 2058.0,754.4 2058.5,759.3 2059.0,759.3 2059.5,758.2 2060.0,759.0 2060.5,758.2 2061.0,761.6 2061.5,764.7 2062.0,759.7 2062.5,756.7 2063.0,752.6 2063.5,755.0 2064.0,755.7 2064.5,772.2 2065.0,750.3 2065.5,753.6 2066.0,752.5 2066.5,760.9 2067.0,754.0 2067.5,749.0 2068.0,748.0 2068.5,760.1 2069.0,749.8 2069.5,761.8 2070.0,761.6 2070.5,752.0 2071.0,755.4 2071.5,756.9 2072.0,750.3 2072.5,751.4"/>
<polyline stroke="#000" stroke-width="1.7" points="174.0,1341.8 174.5,1335.5 175.0,1337.0 175.5,1318.6 176.0,1312.0 176.5,1352.8 177.0,1339.6 177.5,1350.2 178.0,1349.7 178.5,1338.8 179.0,1353.3 179.5,1341.9 180.0,1342.1 180.5,1338.3 181.0,1350.0 181.5,1345.3 182.0,1351.4 182.5,1341.4 183.0,1348.2 183.5,1339.4 184.0,1355.1 184.5,1349.5 185.0,1350.9 185.5,1351.8 186.0,1339.4 186.5,1355.4 187.0,1366.8 187.5,1334.3 188.0,1333.7 188.5,1335.8 189.0,1356.6 189.5,1350.5 190.0,1359.0 190.5,1356.0 191.0,1351.6 191.5,1352.3 192.0,1348.5 192.5,1357.7 193.0,1340.4 193.5,1346.6 194.0,1352.5 194.5,1366.1 195.0,1344.0 195.5,1341.4 196.0,1345.9 196.5,1371.0 197.0,1349.0 197.5,1362.5 198.0,1335.1 198.5,1361.0 199.0,1360.2 199.5,1339.3 200.0,1354.7 200.5,1362.0 201.0,1353.5 201.5,1360.3 202.0,1372.1 202.5,1354.2 203.0,1349.6 203.5,1345.5 204.0,1357.6 204.5,1350.5 205.0,1350.8 205.5,1351.5 206.0,1357.9 206.5,1343.5 207.0,1339.7 207.5,1332.2 208.0,1362.8 208.5,1353.4 209.0,1365.6 209.5,1352.9 210.0,1346.9 210.5,1362.7 211.0,1352.6 211.5,1342.9 212.0,1346.0 212.5,1368.2 213.0,1356.5 213.5,1357.2 214.0,1351.5 214.5,1348.2 215.0,1361.4 215.5,1353.2 216.0,1347.9 216.5,1353.2 217.0,1347.0 217.5,1356.1 218.0,1363.9 218.5,1347.9 219.0,1366.6 219.5,1349.5 220.0,1356.3 220.5,1348.4 221.0,1353.5 221.5,1355.8 222.0,1352.0 222.5,1349.9 223.0,1350.2 223.5,1349.2 224.0,1343.3 224.5,1354.0 225.0,1359.4 225.5,1363.6 226.0,1361.6 226.5,1376.2 227.0,1359.2 227.5,1348.0 228.0,1371.8 228.5,1348.6 229.0,1364.8 229.5,1349.6 230.0,1360.1 230.5,1341.8 231.0,1364.7 231.5,1356.4 232.0,1350.1 232.5,1371.2 233.0,1364.1 233.5,1358.5 234.0,1352.4 234.5,1357.5 235.0,1357.2 235.5,1364.3 236.0,1364.9 236.5,1353.6 237.0,1354.7 237.5,1354.9 238.0,1348.7 238.5,1348.3 239.0,1358.7 239.5,1372.4 240.0,1369.8 240.5,1353.5 241.0,1364.1 241.5,1356.6 242.0,1376.0 242.5,1359.8 243.0,1364.2 243.5,1353.3 244.0,1354.3 244.5,1362.2 245.0,1357.8 245.5,1363.6 246.0,1349.1 246.5,1366.1 247.0,1354.4 247.5,1374.4 248.0,1359.3 248.5,1369.8 249.0,1351.2 249.5,1365.0 250.0,1355.2 250.5,1358.3 251.0,1362.3 251.5,1359.8 252.0,1364.3 252.5,1368.0 253.0,1367.4 253.5,1362.0 254.0,1352.6 254.5,1348.5 255.0,1361.5 255.5,1347.4 256.0,1368.7 256.5,1361.5 257.0,1361.5 257.5,1370.5 258.0,1368.5 258.5,1365.3 259.0,1356.5 259.5,1366.2 260.0,1366.5 260.5,1357.6 261.0,1371.8 261.5,1368.0 262.0,1350.1 262.5,1365.4 263.0,1342.6 263.5,1372.9 264.0,1370.6 264.5,1356.9 265.0,1349.7 265.5,1365.8 266.0,1363.5 266.5,1376.3 267.0,1370.7 267.5,1360.7 268.0,1369.8 268.5,1351.2 269.0,1368.0 269.5,1372.1 270.0,1364.8 270.5,1361.1 271.0,1370.3 271.5,1380.2 272.0,1367.9 272.5,1358.6 273.0,1376.8 273.5,1353.5 274.0,1370.4 274.5,1362.9 275.0,1373.6 275.5,1361.2 276.0,1376.5 276.5,1369.5 277.0,1341.0 277.5,1353.8 278.0,1365.5 278.5,1376.7 279.0,1368.7 279.5,1368.4 280.0,1366.4 280.5,1380.4 281.0,1370.9 281.5,1370.3 282.0,1352.2 282.5,1376.7 283.0,1378.0 283.5,1359.8 284.0,1384.6 284.5,1373.9 285.0,1365.7 285.5,1356.1 286.0,1373.7 286.5,1373.1 287.0,1365.3 287.5,1357.3 288.0,1377.2 288.5,1365.7 289.0,1366.6 289.5,1389.0 290.0,1384.2 290.5,1376.4 291.0,1367.0 291.5,1374.5 292.0,1355.0 292.5,1371.1 293.0,1365.4 293.5,1349.9 294.0,1360.1 294.5,1374.2 295.0,1371.3 295.5,1371.9 296.0,1376.5 296.5,1365.4 297.0,1351.5 297.5,1359.4 298.0,1369.0 298.5,1376.3 299.0,1370.4 299.5,1375.6 300.0,1363.7 300.5,1368.5 301.0,1359.6 301.5,1363.5 302.0,1383.9 302.5,1377.4 303.0,1366.9 303.5,1367.0 304.0,1371.6 304.5,1362.7 305.0,1375.0 305.5,1363.8 306.0,1369.8 306.5,1365.7 307.0,1364.9 307.5,1363.8 308.0,1362.3 308.5,1366.3 309.0,1368.2 309.5,1368.1 310.0,1373.1 310.5,1382.6 311.0,1385.4 311.5,1371.2 312.0,1377.6 312.5,1368.5 313.0,1382.3 313.5,1376.6 314.0,1364.4 314.5,1378.0 315.0,1378.5 315.5,1356.1 316.0,1368.6 316.5,1370.4 317.0,1361.1 317.5,1366.7 318.0,1367.5 318.5,1376.8 319.0,1375.5 319.5,1390.4 320.0,1367.7 320.5,1381.1 321.0,1374.3 321.5,1375.6 322.0,1366.6 322.5,1361.9 323.0,1369.2 323.5,1378.9 324.0,1384.1 324.5,1378.0 325.0,1377.3 325.5,1369.0 326.0,1384.0 326.5,1382.8 327.0,1371.0 327.5,1374.1 328.0,1368.2 328.5,1383.7 329.0,1377.1 329.5,1374.0 330.0,1377.2 330.5,1377.4 331.0,1372.1 331.5,1367.0 332.0,1366.8 332.5,1364.0 333.0,1377.8 333.5,1388.8 334.0,1364.4 334.5,1375.9 335.0,1377.6 335.5,1369.0 336.0,1376.4 336.5,1358.8 337.0,1382.6 337.5,1371.5 338.0,1375.9 338.5,1379.5 339.0,1372.7 339.5,1364.3 340.0,1367.5 340.5,1380.2 341.0,1375.0 341.5,1376.9 342.0,1368.9 342.5,1376.5 343.0,1380.1 343.5,1375.9 344.0,1387.4 344.5,1374.4 345.0,1369.4 345.5,1365.9 346.0,1382.9 346.5,1375.5 347.0,1382.1 347.5,1378.7 348.0,1385.9 348.5,1383.7 349.0,1373.7 349.5,1377.7 350.0,1382.7 350.5,1358.0 351.0,1385.0 351.5,1383.5 352.0,1382.2 352.5,1375.0 353.0,1378.1 353.5,1369.5 354.0,1376.6 354.5,1372.7 355.0,1376.9 355.5,1373.4 356.0,1378.1 356.5,1383.5 357.0,1368.5 357.5,1382.1 358.0,1364.4 358.5,1363.4 359.0,1375.8 359.5,1376.6 360.0,1379.2 360.5,1366.6 361.0,1376.2 361.5,1377.4 362.0,1384.2 362.5,1376.0 363.0,1379.9 363.5,1370.8 364.0,1375.6 364.5,1374.1 365.0,1381.0 365.5,1370.9 366.0,1371.8 366.5,1380.3 367.0,1387.6 367.5,1379.2 368.0,1378.7 368.5,1374.8 369.0,1383.4 369.5,1380.2 370.0,1387.3 370.5,1379.0 371.0,1371.4 371.5,1373.6 372.0,1371.2 372.5,1369.6 373.0,1384.6 373.5,1381.9 374.0,1369.8 374.5,1387.7 375.0,1378.6 375.5,1371.5 376.0,1379.5 376.5,1376.2 377.0,1372.7 377.5,1354.8 378.0,1377.5 378.5,1379.0 379.0,1362.1 379.5,1380.6 380.0,1381.0 380.5,1374.6 381.0,1378.1 381.5,1373.5 382.0,1372.5 382.5,1375.3 383.0,1385.4 383.5,1369.0 384.0,1380.9 384.5,1378.6 385.0,1373.4 385.5,1375.0 386.0,1369.4 386.5,1372.6 387.0,1377.7 387.5,1382.3 388.0,1372.4 388.5,1395.6 389.0,1374.4 389.5,1379.6 390.0,1376.5 390.5,1375.5 391.0,1396.1 391.5,1375.1 392.0,1385.7 392.5,1384.6 393.0,1371.9 393.5,1384.0 394.0,1374.2 394.5,1393.9 395.0,1375.8 395.5,1372.6 396.0,1367.0 396.5,1370.6 397.0,1374.8 397.5,1372.4 398.0,1371.1 398.5,1374.2 399.0,1377.1 399.5,1386.7 400.0,1368.5 400.5,1375.2 401.0,1372.9 401.5,1369.7 402.0,1361.0 402.5,1373.3 403.0,1382.7 403.5,1377.5 404.0,1375.5 404.5,1382.1 405.0,1380.3 405.5,1377.4 406.0,1380.9 406.5,1367.4 407.0,1382.4 407.5,1381.5 408.0,1376.5 408.5,1362.2 409.0,1387.6 409.5,1379.5 410.0,1396.4 410.5,1375.3 411.0,1390.7 411.5,1376.7 412.0,1380.6 412.5,1383.9 413.0,1374.7 413.5,1378.7 414.0,1380.2 414.5,1380.0 415.0,1382.8 415.5,1385.2 416.0,1384.2 416.5,1381.0 417.0,1377.6 417.5,1373.2 418.0,1375.5 418.5,1376.7 419.0,1388.9 419.5,1374.8 420.0,1372.8 420.5,1383.3 421.0,1375.3 421.5,1375.6 422.0,1378.6 422.5,1382.6 423.0,1366.5 423.5,1373.7 424.0,1381.0 424.5,1378.0 425.0,1375.3 425.5,1377.1 426.0,1387.9 426.5,1377.7 427.0,1384.2 427.5,1384.7 428.0,1377.8 428.5,1382.8 429.0,1377.9 429.5,1377.0 430.0,1374.2 430.5,1385.3 431.0,1378.3 431.5,1377.5 432.0,1374.4 432.5,1390.6 433.0,1384.7 433.5,1379.9 434.0,1376.9 434.5,1372.3 435.0,1382.4 435.5,1382.4 436.0,1373.1 436.5,1387.2 437.0,1385.1 437.5,1375.6 438.0,1377.9 438.5,1378.6 439.0,1381.9 439.5,1380.2 440.0,1372.1 440.5,1389.1 441.0,1382.8 441.5,1388.0 442.0,1388.0 442.5,1380.1 443.0,1383.1 443.5,1385.3 444.0,1385.5 444.5,1380.4 445.0,1378.0 445.5,1381.6 446.0,1377.1 446.5,1378.4 447.0,1370.5 447.5,1381.9 448.0,1376.0 448.5,1378.5 449.0,1381.3 449.5,1383.3 450.0,1391.8 450.5,1382.8 451.0,1374.1 451.5,1382.4 452.0,1378.6 452.5,1383.9 453.0,1378.1 453.5,1378.1 454.0,1379.1 454.5,1378.6 455.0,1372.2 455.5,1378.4 456.0,1381.9 456.5,1397.5 457.0,1380.5 457.5,1380.1 458.0,1385.2 458.5,1385.0 459.0,1390.7 459.5,1385.3 460.0,1382.1 460.5,1389.4 461.0,1390.4 461.5,1379.8 462.0,1383.2 462.5,1362.2 463.0,1380.5 463.5,1377.7 464.0,1381.3 464.5,1379.9 465.0,1381.6 465.5,1382.0 466.0,1385.2 466.5,1383.8 467.0,1379.6 467.5,1375.8 468.0,1389.2 468.5,1390.1 469.0,1380.3 469.5,1385.7 470.0,1363.5 470.5,1374.5 471.0,1381.3 471.5,1390.5 472.0,1377.3 472.5,1378.4 473.0,1391.3 473.5,1372.9 474.0,1386.2 474.5,1385.4 475.0,1381.8 475.5,1383.9 476.0,1396.6 476.5,1377.0 477.0,1381.3 477.5,1381.7 478.0,1379.4 478.5,1376.0 479.0,1391.3 479.5,1384.1 480.0,1373.8 480.5,1379.3 481.0,1385.1 481.5,1385.1 482.0,1375.5 482.5,1382.5 483.0,1384.4 483.5,1385.0 484.0,1385.0 484.5,1373.5 485.0,1402.7 485.5,1384.1 486.0,1392.4 486.5,1397.8 487.0,1382.1 487.5,1376.5 488.0,1387.4 488.5,1382.0 489.0,1380.6 489.5,1370.0 490.0,1391.6 490.5,1380.6 491.0,1375.6 491.5,1380.5 492.0,1368.4 492.5,1383.6 493.0,1380.6 493.5,1377.2 494.0,1385.8 494.5,1379.3 495.0,1386.4 495.5,1389.1 496.0,1380.7 496.5,1379.2 497.0,1383.5 497.5,1387.1 498.0,1382.4 498.5,1383.1 499.0,1382.2 499.5,1383.9 500.0,1385.5 500.5,1378.5 501.0,1379.6 501.5,1382.3 502.0,1378.5 502.5,1382.7 503.0,1384.7 503.5,1381.6 504.0,1378.6 504.5,1377.7 505.0,1390.8 505.5,1392.6 506.0,1375.7 506.5,1377.1 507.0,1391.2 507.5,1389.2 508.0,1381.9 508.5,1387.2 509.0,1373.3 509.5,1381.0 510.0,1384.8 510.5,1371.1 511.0,1376.6 511.5,1384.8 512.0,1386.5 512.5,1377.4 513.0,1381.9 513.5,1388.7 514.0,1378.2 514.5,1373.1 515.0,1379.7 515.5,1377.8 516.0,1386.5 516.5,1380.2 517.0,1374.7 517.5,1391.2 518.0,1375.3 518.5,1379.9 519.0,1380.4 519.5,1380.3 520.0,1376.3 520.5,1377.8 521.0,1373.5 521.5,1365.2 522.0,1371.0 522.5,1370.2 523.0,1369.5 523.5,1370.4 524.0,1365.2 524.5,1375.5 525.0,1376.1 525.5,1353.6 526.0,1365.5 526.5,1354.8 527.0,1348.8 527.5,1369.0 528.0,1358.9 528.5,1359.5 529.0,1357.0 529.5,1366.5 530.0,1366.6 530.5,1360.0 531.0,1361.7 531.5,1356.0 532.0,1356.8 532.5,1350.6 533.0,1354.6 533.5,1349.3 534.0,1355.4 534.5,1357.6 535.0,1353.9 535.5,1358.9 536.0,1367.8 536.5,1337.3 537.0,1350.1 537.5,1346.0 538.0,1346.4 538.5,1340.5 539.0,1318.0 539.5,1347.5 540.0,1345.6 540.5,1348.6 541.0,1347.3 541.5,1337.4 542.0,1359.6 542.5,1352.1 543.0,1349.2 543.5,1358.0 544.0,1353.7 544.5,1346.5 545.0,1366.5 545.5,1341.1 546.0,1363.7 546.5,1367.3 547.0,1375.5 547.5,1375.4 548.0,1371.2 548.5,1364.7 549.0,1366.5 549.5,1374.8 550.0,1378.5 550.5,1371.3 551.0,1364.3 551.5,1373.4 552.0,1365.0 552.5,1364.4 553.0,1364.7 553.5,1369.2 554.0,1367.0 554.5,1370.6 555.0,1371.9 555.5,1367.0 556.0,1350.0 556.5,1353.3 557.0,1363.6 557.5,1362.0 558.0,1374.6 558.5,1361.5 559.0,1360.5 559.5,1366.6 560.0,1367.0 560.5,1359.1 561.0,1363.0 561.5,1353.2 562.0,1354.1 562.5,1366.7 563.0,1350.8 563.5,1364.3 564.0,1362.6 564.5,1369.3 565.0,1363.4 565.5,1361.0 566.0,1344.6 566.5,1351.0 567.0,1353.1 567.5,1361.9 568.0,1349.2 568.5,1351.4 569.0,1353.1 569.5,1362.8 570.0,1345.8 570.5,1345.9 571.0,1357.5 571.5,1340.3 572.0,1354.9 572.5,1349.7 573.0,1342.4 573.5,1349.0 574.0,1345.0 574.5,1351.8 575.0,1352.5 575.5,1359.1 576.0,1349.3 576.5,1349.5 577.0,1344.7 577.5,1347.7 578.0,1353.9 578.5,1334.7 579.0,1350.4 579.5,1342.3 580.0,1345.6 580.5,1346.6 581.0,1349.3 581.5,1344.8 582.0,1340.2 582.5,1344.0 583.0,1341.4 583.5,1339.4 584.0,1341.3 584.5,1345.0 585.0,1339.4 585.5,1338.7 586.0,1328.3 586.5,1335.0 587.0,1322.5 587.5,1338.6 588.0,1326.5 588.5,1340.3 589.0,1356.1 589.5,1322.8 590.0,1349.8 590.5,1329.5 591.0,1321.6 591.5,1318.2 592.0,1326.5 592.5,1330.9 593.0,1321.9 593.5,1306.8 594.0,1308.1 594.5,1311.8 595.0,1320.9 595.5,1310.2 596.0,1307.1 596.5,1309.7 597.0,1294.4 597.5,1290.2 598.0,1284.1 598.5,1265.6 599.0,1277.8 599.5,1271.3 600.0,1269.4 600.5,1244.5 601.0,1239.3 601.5,1244.0 602.0,1227.6 602.5,1219.2 603.0,1176.9 603.5,1158.0 604.0,1123.0 604.5,1106.7 605.0,1080.5 605.5,1070.6 606.0,1057.9 606.5,1038.1 607.0,1001.6 607.5,1007.7 608.0,987.1 608.5,958.7 609.0,943.9 609.5,935.4 610.0,923.1 610.5,901.1 611.0,878.5 611.5,866.5 612.0,850.0 612.5,843.5 613.0,831.4 613.5,852.2 614.0,872.2 614.5,897.3 615.0,925.9 615.5,936.5 616.0,954.8 616.5,957.5 617.0,978.7 617.5,987.4 618.0,1011.9 618.5,1063.0 619.0,1094.6 619.5,1128.6 620.0,1154.8 620.5,1161.4 621.0,1180.5 621.5,1198.4 622.0,1199.3 622.5,1229.6 623.0,1240.1 623.5,1251.0 624.0,1253.3 624.5,1255.8 625.0,1277.7 625.5,1287.5 626.0,1298.9 626.5,1300.2 627.0,1305.2 627.5,1299.1 628.0,1306.9 628.5,1298.5 629.0,1312.9 629.5,1310.2 630.0,1324.8 630.5,1308.6 631.0,1299.5 631.5,1320.5 632.0,1306.9 632.5,1313.9 633.0,1314.0 633.5,1311.4 634.0,1328.5 634.5,1324.5 635.0,1317.0 635.5,1322.3 636.0,1319.0 636.5,1326.0 637.0,1318.5 637.5,1314.8 638.0,1314.2 638.5,1314.1 639.0,1317.5 639.5,1297.9 640.0,1311.0 640.5,1313.0 641.0,1325.0 641.5,1312.5 642.0,1282.7 642.5,1293.7 643.0,1297.9 643.5,1301.0 644.0,1308.0 644.5,1298.9 645.0,1272.3 645.5,1287.8 646.0,1281.1 646.5,1274.9 647.0,1274.3 647.5,1246.2 648.0,1254.9 648.5,1222.8 649.0,1226.5 649.5,1218.1 650.0,1223.4 650.5,1189.9 651.0,1172.7 651.5,1182.8 652.0,1162.9 652.5,1171.8 653.0,1145.3 653.5,1128.1 654.0,1132.9 654.5,1115.2 655.0,1106.0 655.5,1089.9 656.0,1094.5 656.5,1082.8 657.0,1089.7 657.5,1095.8 658.0,1107.6 658.5,1126.0 659.0,1140.8 659.5,1160.1 660.0,1165.8 660.5,1181.2 661.0,1192.6 661.5,1223.9 662.0,1203.4 662.5,1230.9 663.0,1230.5 663.5,1244.4 664.0,1248.0 664.5,1271.0 665.0,1260.0 665.5,1267.1 666.0,1283.3 666.5,1283.0 667.0,1303.3 667.5,1310.2 668.0,1302.6 668.5,1317.5 669.0,1311.1 669.5,1319.1 670.0,1322.9 670.5,1338.6 671.0,1329.0 671.5,1325.8 672.0,1328.3 672.5,1344.1 673.0,1327.7 673.5,1336.9 674.0,1338.6 674.5,1326.7 675.0,1340.0 675.5,1350.0 676.0,1346.1 676.5,1340.1 677.0,1350.6 677.5,1350.4 678.0,1360.3 678.5,1344.3 679.0,1347.1 679.5,1350.4 680.0,1349.9 680.5,1351.9 681.0,1351.3 681.5,1348.4 682.0,1330.6 682.5,1350.2 683.0,1345.7 683.5,1348.1 684.0,1351.4 684.5,1357.9 685.0,1360.2 685.5,1349.4 686.0,1357.4 686.5,1360.4 687.0,1355.6 687.5,1346.4 688.0,1343.4 688.5,1360.5 689.0,1361.2 689.5,1357.5 690.0,1349.8 690.5,1364.3 691.0,1362.9 691.5,1355.6 692.0,1354.6 692.5,1344.5 693.0,1360.2 693.5,1346.5 694.0,1359.8 694.5,1360.1 695.0,1356.4 695.5,1365.0 696.0,1354.0 696.5,1359.3 697.0,1366.7 697.5,1357.3 698.0,1353.4 698.5,1363.0 699.0,1358.3 699.5,1353.0 700.0,1354.9 700.5,1356.6 701.0,1369.0 701.5,1356.5 702.0,1354.5 702.5,1349.7 703.0,1348.8 703.5,1344.9 704.0,1357.2 704.5,1356.0 705.0,1349.9 705.5,1347.3 706.0,1354.0 706.5,1352.8 707.0,1348.2 707.5,1357.6 708.0,1357.6 708.5,1355.5 709.0,1360.3 709.5,1352.1 710.0,1374.4 710.5,1350.0 711.0,1358.8 711.5,1359.5 712.0,1354.4 712.5,1358.0 713.0,1348.7 713.5,1347.5 714.0,1355.1 714.5,1352.1 715.0,1359.8 715.5,1356.7 716.0,1360.2 716.5,1358.6 717.0,1358.1 717.5,1357.6 718.0,1355.1 718.5,1354.7 719.0,1369.1 719.5,1347.7 720.0,1355.1 720.5,1363.7 721.0,1360.6 721.5,1366.4 722.0,1361.7 722.5,1351.7 723.0,1357.2 723.5,1340.0 724.0,1372.4 724.5,1367.7 725.0,1357.3 725.5,1363.0 726.0,1357.9 726.5,1352.4 727.0,1358.1 727.5,1339.9 728.0,1357.8 728.5,1362.3 729.0,1365.4 729.5,1368.7 730.0,1359.8 730.5,1363.2 731.0,1364.3 731.5,1365.2 732.0,1341.7 732.5,1358.2 733.0,1367.0 733.5,1356.6 734.0,1364.3 734.5,1367.6 735.0,1352.8 735.5,1362.2 736.0,1364.6 736.5,1363.5 737.0,1355.2 737.5,1365.4 738.0,1360.5 738.5,1368.1 739.0,1366.0 739.5,1360.7 740.0,1364.6 740.5,1359.9 741.0,1359.8 741.5,1355.0 742.0,1362.2 742.5,1373.3 743.0,1363.8 743.5,1362.9 744.0,1359.5 744.5,1359.8 745.0,1366.6 745.5,1354.2 746.0,1373.4 746.5,1361.6 747.0,1373.6 747.5,1368.0 748.0,1359.0 748.5,1370.1 749.0,1362.3 749.5,1363.2 750.0,1364.9 750.5,1357.3 751.0,1356.7 751.5,1357.7 752.0,1352.3 752.5,1358.2 753.0,1360.9 753.5,1360.9 754.0,1360.5 754.5,1357.2 755.0,1363.7 755.5,1348.0 756.0,1357.3 756.5,1357.8 757.0,1364.8 757.5,1363.8 758.0,1364.9 758.5,1361.0 759.0,1366.6 759.5,1356.4 760.0,1362.8 760.5,1343.2 761.0,1372.8 761.5,1372.8 762.0,1361.7 762.5,1361.0 763.0,1355.1 763.5,1358.8 764.0,1368.2 764.5,1365.2 765.0,1361.2 765.5,1367.0 766.0,1366.8 766.5,1375.6 767.0,1375.1 767.5,1370.9 768.0,1373.1 768.5,1373.0 769.0,1363.0 769.5,1374.8 770.0,1373.9 770.5,1378.3 771.0,1365.7 771.5,1379.0 772.0,1372.4 772.5,1377.2 773.0,1389.5 773.5,1369.2 774.0,1370.3 774.5,1381.9 775.0,1371.7 775.5,1372.9 776.0,1380.8 776.5,1377.2 777.0,1382.2 777.5,1380.1 778.0,1378.8 778.5,1383.9 779.0,1390.0 779.5,1377.5 780.0,1386.9 780.5,1385.5 781.0,1380.8 781.5,1382.6 782.0,1376.1 782.5,1377.8 783.0,1382.2 783.5,1380.8 784.0,1387.3 784.5,1375.1 785.0,1380.0 785.5,1378.4 786.0,1378.9 786.5,1387.1 787.0,1376.0 787.5,1385.8 788.0,1379.1 788.5,1380.4 789.0,1386.7 789.5,1378.0 790.0,1385.3 790.5,1382.8 791.0,1381.5 791.5,1380.7 792.0,1374.3 792.5,1379.0 793.0,1383.3 793.5,1383.6 794.0,1375.7 794.5,1387.4 795.0,1385.5 795.5,1376.8 796.0,1378.0 796.5,1387.8 797.0,1374.8 797.5,1379.6 798.0,1382.9 798.5,1382.6 799.0,1383.0 799.5,1385.1 800.0,1379.6 800.5,1381.1 801.0,1393.0 801.5,1376.9 802.0,1381.4 802.5,1384.0 803.0,1380.6 803.5,1396.5 804.0,1384.0 804.5,1387.2 805.0,1371.6 805.5,1389.3 806.0,1389.2 806.5,1380.4 807.0,1390.0 807.5,1385.2 808.0,1388.3 808.5,1402.1 809.0,1384.5 809.5,1379.4 810.0,1384.1 810.5,1369.4 811.0,1380.5 811.5,1380.8 812.0,1381.1 812.5,1389.8 813.0,1388.3 813.5,1380.3 814.0,1389.7 814.5,1367.5 815.0,1381.6 815.5,1384.0 816.0,1390.2 816.5,1388.1 817.0,1386.9 817.5,1390.8 818.0,1388.2 818.5,1391.2 819.0,1381.4 819.5,1377.3 820.0,1383.2 820.5,1388.9 821.0,1386.4 821.5,1389.3 822.0,1388.5 822.5,1387.6 823.0,1389.1 823.5,1382.1 824.0,1390.4 824.5,1380.9 825.0,1385.0 825.5,1379.1 826.0,1387.9 826.5,1378.5 827.0,1392.1 827.5,1379.6 828.0,1386.9 828.5,1385.1 829.0,1381.8 829.5,1391.5 830.0,1383.9 830.5,1392.6 831.0,1381.3 831.5,1382.3 832.0,1376.9 832.5,1388.6 833.0,1390.3 833.5,1387.2 834.0,1385.4 834.5,1382.0 835.0,1396.9 835.5,1389.6 836.0,1378.0 836.5,1384.9 837.0,1374.6 837.5,1393.6 838.0,1395.4 838.5,1393.1 839.0,1386.3 839.5,1383.9 840.0,1380.3 840.5,1389.0 841.0,1383.3 841.5,1385.0 842.0,1379.4 842.5,1385.4 843.0,1390.8 843.5,1394.4 844.0,1387.6 844.5,1387.0 845.0,1381.9 845.5,1373.3 846.0,1375.2 846.5,1391.0 847.0,1388.2 847.5,1391.5 848.0,1391.4 848.5,1385.4 849.0,1381.6 849.5,1385.6 850.0,1380.8 850.5,1396.3 851.0,1388.5 851.5,1385.7 852.0,1396.3 852.5,1385.7 853.0,1389.9 853.5,1385.4 854.0,1389.1 854.5,1385.9 855.0,1389.8 855.5,1394.0 856.0,1381.9 856.5,1377.7 857.0,1393.7 857.5,1388.4 858.0,1391.6 858.5,1386.4 859.0,1394.7 859.5,1395.9 860.0,1374.9 860.5,1390.8 861.0,1385.1 861.5,1380.6 862.0,1384.3 862.5,1390.4 863.0,1381.8 863.5,1382.1 864.0,1393.5 864.5,1388.1 865.0,1389.8 865.5,1382.8 866.0,1385.1 866.5,1388.5 867.0,1388.9 867.5,1388.7 868.0,1395.2 868.5,1388.8 869.0,1381.2 869.5,1378.1 870.0,1387.8 870.5,1393.8 871.0,1385.0 871.5,1383.3 872.0,1388.0 872.5,1384.9 873.0,1384.4 873.5,1387.1 874.0,1392.6 874.5,1390.3 875.0,1386.9 875.5,1390.0 876.0,1382.5 876.5,1392.7 877.0,1391.6 877.5,1389.6 878.0,1381.0 878.5,1397.4 879.0,1375.2 879.5,1383.9 880.0,1384.2 880.5,1391.5 881.0,1372.1 881.5,1389.5 882.0,1387.8 882.5,1387.2 883.0,1392.3 883.5,1394.9 884.0,1390.3 884.5,1387.3 885.0,1378.4 885.5,1395.2 886.0,1387.3 886.5,1380.4 887.0,1389.4 887.5,1395.2 888.0,1388.1 888.5,1383.5 889.0,1398.9 889.5,1391.6 890.0,1390.4 890.5,1393.4 891.0,1379.2 891.5,1388.6 892.0,1388.2 892.5,1399.1 893.0,1386.5 893.5,1386.5 894.0,1382.8 894.5,1385.4 895.0,1388.2 895.5,1390.3 896.0,1388.2 896.5,1398.1 897.0,1391.4 897.5,1392.0 898.0,1403.3 898.5,1392.1 899.0,1386.9 899.5,1382.3 900.0,1390.9 900.5,1385.6 901.0,1395.2 901.5,1385.9 902.0,1379.4 902.5,1389.5 903.0,1394.2 903.5,1388.4 904.0,1390.2 904.5,1390.1 905.0,1397.1 905.5,1390.8 906.0,1389.2 906.5,1386.7 907.0,1382.1 907.5,1395.7 908.0,1394.6 908.5,1378.6 909.0,1392.2 909.5,1390.9 910.0,1387.8 910.5,1388.1 911.0,1392.9 911.5,1384.1 912.0,1387.2 912.5,1389.2 913.0,1389.5 913.5,1388.6 914.0,1390.5 914.5,1391.9 915.0,1385.5 915.5,1389.9 916.0,1387.2 916.5,1396.3 917.0,1383.3 917.5,1388.5 918.0,1392.7 918.5,1385.9 919.0,1385.4 919.5,1387.2 920.0,1391.0 920.5,1384.4 921.0,1389.2 921.5,1389.1 922.0,1383.0 922.5,1390.8 923.0,1387.4 923.5,1390.9 924.0,1393.3 924.5,1391.0 925.0,1384.2 925.5,1390.9 926.0,1382.3 926.5,1386.0 927.0,1396.8 927.5,1389.3 928.0,1396.2 928.5,1388.4 929.0,1389.2 929.5,1384.2 930.0,1393.3 930.5,1388.1 931.0,1391.8 931.5,1390.9 932.0,1391.2 932.5,1390.3 933.0,1388.6 933.5,1388.7 934.0,1385.5 934.5,1379.1 935.0,1390.6 935.5,1397.6 936.0,1393.1 936.5,1398.6 937.0,1390.3 937.5,1383.7 938.0,1383.5 938.5,1391.1 939.0,1391.2 939.5,1386.9 940.0,1390.8 940.5,1383.4 941.0,1389.6 941.5,1385.8 942.0,1387.7 942.5,1392.1 943.0,1385.7 943.5,1392.1 944.0,1391.2 944.5,1381.0 945.0,1394.2 945.5,1376.8 946.0,1380.4 946.5,1383.8 947.0,1368.3 947.5,1382.9 948.0,1382.2 948.5,1374.8 949.0,1375.4 949.5,1373.7 950.0,1369.9 950.5,1374.5 951.0,1365.0 951.5,1364.5 952.0,1364.3 952.5,1364.5 953.0,1363.5 953.5,1346.9 954.0,1342.3 954.5,1349.7 955.0,1347.8 955.5,1341.3 956.0,1344.0 956.5,1342.1 957.0,1338.2 957.5,1339.3 958.0,1328.7 958.5,1330.0 959.0,1334.0 959.5,1329.9 960.0,1325.2 960.5,1329.8 961.0,1334.1 961.5,1338.8 962.0,1336.4 962.5,1340.4 963.0,1334.1 963.5,1339.2 964.0,1347.4 964.5,1339.0 965.0,1344.6 965.5,1336.4 966.0,1357.3 966.5,1349.9 967.0,1355.6 967.5,1334.3 968.0,1348.8 968.5,1367.6 969.0,1355.1 969.5,1358.3 970.0,1365.6 970.5,1367.4 971.0,1355.9 971.5,1362.5 972.0,1369.4 972.5,1370.8 973.0,1374.3 973.5,1372.1 974.0,1374.6 974.5,1378.6 975.0,1375.9 975.5,1376.8 976.0,1379.6 976.5,1383.4 977.0,1383.8 977.5,1383.3 978.0,1385.1 978.5,1386.5 979.0,1388.4 979.5,1388.7 980.0,1381.6 980.5,1391.7 981.0,1371.0 981.5,1390.1 982.0,1384.7 982.5,1390.5 983.0,1392.7 983.5,1379.9 984.0,1391.0 984.5,1389.6 985.0,1386.5 985.5,1392.6 986.0,1386.6 986.5,1389.4 987.0,1384.4 987.5,1392.5 988.0,1391.7 988.5,1392.5 989.0,1386.5 989.5,1397.5 990.0,1398.2 990.5,1389.2 991.0,1387.8 991.5,1388.0 992.0,1392.8 992.5,1400.6 993.0,1386.7 993.5,1381.2 994.0,1392.1 994.5,1390.0 995.0,1391.0 995.5,1392.5 996.0,1385.4 996.5,1390.6 997.0,1389.1 997.5,1392.1 998.0,1395.8 998.5,1390.5 999.0,1386.8 999.5,1396.0 1000.0,1393.7 1000.5,1389.7 1001.0,1382.8 1001.5,1386.9 1002.0,1391.3 1002.5,1393.1 1003.0,1385.0 1003.5,1392.6 1004.0,1388.0 1004.5,1386.1 1005.0,1393.1 1005.5,1389.6 1006.0,1391.4 1006.5,1394.6 1007.0,1395.7 1007.5,1388.2 1008.0,1389.7 1008.5,1376.7 1009.0,1385.1 1009.5,1392.1 1010.0,1388.5 1010.5,1382.7 1011.0,1393.1 1011.5,1387.1 1012.0,1389.4 1012.5,1392.6 1013.0,1392.5 1013.5,1389.8 1014.0,1382.1 1014.5,1393.2 1015.0,1388.2 1015.5,1375.6 1016.0,1381.1 1016.5,1396.4 1017.0,1391.3 1017.5,1391.2 1018.0,1393.3 1018.5,1390.4 1019.0,1384.3 1019.5,1393.6 1020.0,1395.0 1020.5,1392.9 1021.0,1397.3 1021.5,1398.9 1022.0,1387.2 1022.5,1388.7 1023.0,1394.5 1023.5,1391.4 1024.0,1392.5 1024.5,1394.7 1025.0,1393.8 1025.5,1388.7 1026.0,1391.1 1026.5,1387.5 1027.0,1389.7 1027.5,1385.8 1028.0,1382.1 1028.5,1388.4 1029.0,1388.0 1029.5,1399.5 1030.0,1406.6 1030.5,1390.6 1031.0,1392.5 1031.5,1387.8 1032.0,1386.5 1032.5,1387.3 1033.0,1389.2 1033.5,1391.7 1034.0,1390.9 1034.5,1407.0 1035.0,1388.0 1035.5,1383.3 1036.0,1390.9 1036.5,1387.6 1037.0,1391.3 1037.5,1395.2 1038.0,1387.6 1038.5,1390.0 1039.0,1392.6 1039.5,1386.3 1040.0,1391.3 1040.5,1392.7 1041.0,1393.8 1041.5,1395.0 1042.0,1395.9 1042.5,1392.0 1043.0,1384.3 1043.5,1378.8 1044.0,1380.2 1044.5,1396.4 1045.0,1390.7 1045.5,1380.6 1046.0,1388.4 1046.5,1391.8 1047.0,1382.3 1047.5,1392.7 1048.0,1385.3 1048.5,1394.6 1049.0,1390.3 1049.5,1403.4 1050.0,1384.4 1050.5,1391.4 1051.0,1383.8 1051.5,1395.1 1052.0,1390.7 1052.5,1394.1 1053.0,1390.6 1053.5,1385.1 1054.0,1383.4 1054.5,1384.8 1055.0,1385.6 1055.5,1390.7 1056.0,1394.7 1056.5,1393.7 1057.0,1392.3 1057.5,1387.6 1058.0,1395.3 1058.5,1386.4 1059.0,1390.9 1059.5,1393.6 1060.0,1389.2 1060.5,1388.0 1061.0,1388.2 1061.5,1392.6 1062.0,1388.7 1062.5,1383.9 1063.0,1388.2 1063.5,1385.4 1064.0,1396.4 1064.5,1390.0 1065.0,1383.7 1065.5,1391.1 1066.0,1393.0 1066.5,1391.6 1067.0,1388.4 1067.5,1390.6 1068.0,1391.2 1068.5,1394.3 1069.0,1391.5 1069.5,1399.6 1070.0,1389.1 1070.5,1396.5 1071.0,1390.1 1071.5,1382.7 1072.0,1385.0 1072.5,1382.2 1073.0,1382.7 1073.5,1395.1 1074.0,1387.2 1074.5,1396.1 1075.0,1386.2 1075.5,1389.8 1076.0,1385.5 1076.5,1393.7 1077.0,1388.9 1077.5,1388.1 1078.0,1388.3 1078.5,1406.2 1079.0,1391.9 1079.5,1393.5 1080.0,1384.7 1080.5,1387.2 1081.0,1391.2 1081.5,1382.1 1082.0,1395.7 1082.5,1391.1 1083.0,1389.9 1083.5,1389.1 1084.0,1389.0 1084.5,1387.8 1085.0,1404.1 1085.5,1392.9 1086.0,1395.3 1086.5,1388.7 1087.0,1386.3 1087.5,1395.7 1088.0,1384.8 1088.5,1387.4 1089.0,1393.0 1089.5,1394.6 1090.0,1384.4 1090.5,1388.8 1091.0,1390.1 1091.5,1389.4 1092.0,1386.3 1092.5,1392.8 1093.0,1387.8 1093.5,1389.0 1094.0,1380.4 1094.5,1388.8 1095.0,1381.8 1095.5,1393.0 1096.0,1392.1 1096.5,1387.8 1097.0,1390.7 1097.5,1390.4 1098.0,1389.4 1098.5,1391.5 1099.0,1389.5 1099.5,1388.0 1100.0,1386.6 1100.5,1397.1 1101.0,1390.8 1101.5,1389.9 1102.0,1397.3 1102.5,1386.0 1103.0,1388.4 1103.5,1392.8 1104.0,1400.4 1104.5,1396.7 1105.0,1383.7 1105.5,1390.2 1106.0,1389.9 1106.5,1391.9 1107.0,1386.2 1107.5,1385.5 1108.0,1389.5 1108.5,1386.2 1109.0,1385.5 1109.5,1389.7 1110.0,1399.3 1110.5,1390.5 1111.0,1401.2 1111.5,1385.8 1112.0,1392.9 1112.5,1389.9 1113.0,1386.3 1113.5,1388.2 1114.0,1386.4 1114.5,1389.1 1115.0,1386.8 1115.5,1395.2 1116.0,1386.3 1116.5,1384.0 1117.0,1389.1 1117.5,1393.8 1118.0,1388.6 1118.5,1393.6 1119.0,1386.1 1119.5,1386.4 1120.0,1396.8 1120.5,1390.0 1121.0,1392.2 1121.5,1392.0 1122.0,1392.4 1122.5,1390.1 1123.0,1389.2 1123.5,1394.5 1124.0,1387.9 1124.5,1390.4 1125.0,1392.8 1125.5,1386.0 1126.0,1383.6 1126.5,1391.9 1127.0,1394.4 1127.5,1391.0 1128.0,1373.9 1128.5,1392.5 1129.0,1398.0 1129.5,1383.4 1130.0,1378.5 1130.5,1388.7 1131.0,1390.0 1131.5,1392.8 1132.0,1392.9 1132.5,1389.9 1133.0,1391.7 1133.5,1390.7 1134.0,1389.8 1134.5,1389.0 1135.0,1388.5 1135.5,1392.0 1136.0,1390.7 1136.5,1387.1 1137.0,1393.3 1137.5,1385.7 1138.0,1387.7 1138.5,1389.1 1139.0,1380.6 1139.5,1386.8 1140.0,1391.8 1140.5,1391.5 1141.0,1376.2 1141.5,1384.5 1142.0,1383.4 1142.5,1386.7 1143.0,1387.3 1143.5,1380.9 1144.0,1388.7 1144.5,1387.6 1145.0,1386.9 1145.5,1384.3 1146.0,1386.2 1146.5,1379.5 1147.0,1387.7 1147.5,1387.5 1148.0,1385.4 1148.5,1381.5 1149.0,1399.0 1149.5,1390.9 1150.0,1378.2 1150.5,1390.1 1151.0,1386.5 1151.5,1375.0 1152.0,1387.8 1152.5,1388.2 1153.0,1392.7 1153.5,1386.0 1154.0,1378.6 1154.5,1383.0 1155.0,1387.2 1155.5,1389.8 1156.0,1382.8 1156.5,1383.5 1157.0,1387.5 1157.5,1375.4 1158.0,1386.3 1158.5,1383.3 1159.0,1374.9 1159.5,1391.9 1160.0,1380.1 1160.5,1387.2 1161.0,1389.6 1161.5,1378.4 1162.0,1378.5 1162.5,1383.4 1163.0,1375.9 1163.5,1386.3 1164.0,1383.9 1164.5,1387.2 1165.0,1375.1 1165.5,1383.6 1166.0,1384.6 1166.5,1374.9 1167.0,1386.2 1167.5,1376.4 1168.0,1383.0 1168.5,1376.4 1169.0,1385.3 1169.5,1389.1 1170.0,1382.0 1170.5,1381.7 1171.0,1387.1 1171.5,1379.4 1172.0,1381.5 1172.5,1384.7 1173.0,1382.8 1173.5,1387.7 1174.0,1386.0 1174.5,1389.0 1175.0,1380.5 1175.5,1392.5 1176.0,1376.8 1176.5,1384.2 1177.0,1387.8 1177.5,1390.3 1178.0,1367.3 1178.5,1379.1 1179.0,1382.8 1179.5,1375.7 1180.0,1381.9 1180.5,1381.7 1181.0,1377.1 1181.5,1376.7 1182.0,1374.9 1182.5,1380.2 1183.0,1384.3 1183.5,1379.8 1184.0,1390.7 1184.5,1371.7 1185.0,1375.6 1185.5,1381.0 1186.0,1372.8 1186.5,1379.2 1187.0,1381.1 1187.5,1378.1 1188.0,1376.1 1188.5,1381.1 1189.0,1378.6 1189.5,1379.8 1190.0,1378.8 1190.5,1373.1 1191.0,1371.0 1191.5,1374.0 1192.0,1376.3 1192.5,1374.5 1193.0,1379.4 1193.5,1376.1 1194.0,1379.1 1194.5,1375.1 1195.0,1371.1 1195.5,1378.0 1196.0,1376.3 1196.5,1370.0 1197.0,1371.8 1197.5,1386.3 1198.0,1357.9 1198.5,1378.4 1199.0,1373.3 1199.5,1372.6 1200.0,1371.4 1200.5,1367.5 1201.0,1383.5 1201.5,1370.5 1202.0,1371.0 1202.5,1376.1 1203.0,1374.1 1203.5,1371.4 1204.0,1370.9 1204.5,1366.2 1205.0,1377.5 1205.5,1368.0 1206.0,1362.2 1206.5,1378.7 1207.0,1378.0 1207.5,1376.9 1208.0,1373.7 1208.5,1382.2 1209.0,1372.9 1209.5,1368.9 1210.0,1380.2 1210.5,1383.8 1211.0,1383.8 1211.5,1390.8 1212.0,1386.0 1212.5,1382.1 1213.0,1381.7 1213.5,1387.7 1214.0,1383.9 1214.5,1383.7 1215.0,1377.0 1215.5,1383.3 1216.0,1379.3 1216.5,1385.9 1217.0,1385.6 1217.5,1388.2 1218.0,1392.9 1218.5,1384.7 1219.0,1391.7 1219.5,1381.0 1220.0,1386.6 1220.5,1390.1 1221.0,1394.4 1221.5,1381.7 1222.0,1385.4 1222.5,1387.2 1223.0,1386.3 1223.5,1382.9 1224.0,1380.2 1224.5,1382.0 1225.0,1386.9 1225.5,1381.7 1226.0,1403.2 1226.5,1392.6 1227.0,1379.8 1227.5,1385.7 1228.0,1393.4 1228.5,1394.0 1229.0,1392.7 1229.5,1382.3 1230.0,1386.8 1230.5,1393.7 1231.0,1388.9 1231.5,1384.2 1232.0,1390.8 1232.5,1398.6 1233.0,1389.4 1233.5,1390.0 1234.0,1393.5 1234.5,1386.8 1235.0,1385.4 1235.5,1392.4 1236.0,1384.4 1236.5,1394.4 1237.0,1386.5 1237.5,1393.0 1238.0,1384.7 1238.5,1394.4 1239.0,1392.7 1239.5,1386.9 1240.0,1386.3 1240.5,1389.3 1241.0,1386.2 1241.5,1385.1 1242.0,1394.6 1242.5,1396.1 1243.0,1402.5 1243.5,1376.9 1244.0,1382.3 1244.5,1383.8 1245.0,1396.9 1245.5,1398.5 1246.0,1382.8 1246.5,1394.8 1247.0,1388.8 1247.5,1378.8 1248.0,1390.3 1248.5,1393.0 1249.0,1389.8 1249.5,1390.0 1250.0,1387.3 1250.5,1384.9 1251.0,1389.3 1251.5,1384.1 1252.0,1393.3 1252.5,1387.3 1253.0,1396.3 1253.5,1384.4 1254.0,1404.8 1254.5,1387.3 1255.0,1387.3 1255.5,1393.9 1256.0,1394.7 1256.5,1390.8 1257.0,1389.5 1257.5,1399.2 1258.0,1393.1 1258.5,1386.0 1259.0,1389.9 1259.5,1398.0 1260.0,1392.4 1260.5,1394.4 1261.0,1399.4 1261.5,1388.5 1262.0,1392.5 1262.5,1388.2 1263.0,1391.0 1263.5,1393.2 1264.0,1385.5 1264.5,1392.4 1265.0,1391.6 1265.5,1395.3 1266.0,1388.5 1266.5,1385.7 1267.0,1392.6 1267.5,1386.3 1268.0,1391.7 1268.5,1393.3 1269.0,1387.4 1269.5,1390.5 1270.0,1386.7 1270.5,1379.3 1271.0,1385.0 1271.5,1382.3 1272.0,1391.0 1272.5,1386.5 1273.0,1390.3 1273.5,1390.4 1274.0,1401.3 1274.5,1389.5 1275.0,1389.3 1275.5,1395.8 1276.0,1397.5 1276.5,1390.6 1277.0,1392.3 1277.5,1390.1 1278.0,1388.0 1278.5,1384.5 1279.0,1390.6 1279.5,1389.8 1280.0,1389.9 1280.5,1399.0 1281.0,1389.5 1281.5,1392.2 1282.0,1387.4 1282.5,1395.7 1283.0,1389.7 1283.5,1398.5 1284.0,1389.8 1284.5,1394.1 1285.0,1395.1 1285.5,1389.9 1286.0,1394.4 1286.5,1391.1 1287.0,1387.7 1287.5,1388.1 1288.0,1392.2 1288.5,1398.2 1289.0,1388.8 1289.5,1393.1 1290.0,1387.5 1290.5,1391.9 1291.0,1385.5 1291.5,1387.6 1292.0,1390.8 1292.5,1387.7 1293.0,1389.7 1293.5,1394.9 1294.0,1390.3 1294.5,1387.8 1295.0,1385.7 1295.5,1388.6 1296.0,1395.5 1296.5,1390.4 1297.0,1389.3 1297.5,1393.7 1298.0,1394.2 1298.5,1394.9 1299.0,1389.3 1299.5,1387.0 1300.0,1383.9 1300.5,1387.9 1301.0,1389.2 1301.5,1393.7 1302.0,1392.0 1302.5,1388.4 1303.0,1394.3 1303.5,1385.5 1304.0,1386.4 1304.5,1385.8 1305.0,1386.2 1305.5,1389.6 1306.0,1387.2 1306.5,1383.1 1307.0,1396.1 1307.5,1384.6 1308.0,1386.4 1308.5,1389.6 1309.0,1392.4 1309.5,1395.3 1310.0,1389.5 1310.5,1389.0 1311.0,1389.4 1311.5,1393.5 1312.0,1386.8 1312.5,1380.9 1313.0,1391.2 1313.5,1385.7 1314.0,1390.2 1314.5,1396.1 1315.0,1390.8 1315.5,1397.9 1316.0,1383.9 1316.5,1391.4 1317.0,1392.0 1317.5,1393.8 1318.0,1387.4 1318.5,1391.0 1319.0,1390.9 1319.5,1390.7 1320.0,1384.8 1320.5,1383.3 1321.0,1392.5 1321.5,1391.7 1322.0,1390.5 1322.5,1392.9 1323.0,1394.7 1323.5,1385.6 1324.0,1393.5 1324.5,1404.8 1325.0,1394.4 1325.5,1392.7 1326.0,1393.1 1326.5,1384.4 1327.0,1388.2 1327.5,1394.4 1328.0,1396.3 1328.5,1392.1 1329.0,1388.4 1329.5,1389.7 1330.0,1393.7 1330.5,1398.4 1331.0,1398.1 1331.5,1388.1 1332.0,1392.7 1332.5,1392.0 1333.0,1399.9 1333.5,1392.6 1334.0,1390.7 1334.5,1389.8 1335.0,1385.1 1335.5,1385.8 1336.0,1388.0 1336.5,1386.6 1337.0,1390.5 1337.5,1390.1 1338.0,1393.3 1338.5,1404.4 1339.0,1389.8 1339.5,1388.2 1340.0,1381.3 1340.5,1390.2 1341.0,1391.1 1341.5,1385.1 1342.0,1386.3 1342.5,1384.8 1343.0,1391.7 1343.5,1389.7 1344.0,1391.8 1344.5,1374.9 1345.0,1397.2 1345.5,1382.4 1346.0,1381.4 1346.5,1386.1 1347.0,1382.6 1347.5,1392.2 1348.0,1382.5 1348.5,1381.0 1349.0,1387.6 1349.5,1388.3 1350.0,1379.2 1350.5,1380.4 1351.0,1380.5 1351.5,1381.0 1352.0,1388.6 1352.5,1386.2 1353.0,1385.0 1353.5,1385.6 1354.0,1379.8 1354.5,1383.1 1355.0,1378.6 1355.5,1375.2 1356.0,1385.4 1356.5,1370.0 1357.0,1377.3 1357.5,1374.4 1358.0,1369.2 1358.5,1374.4 1359.0,1376.0 1359.5,1377.3 1360.0,1366.0 1360.5,1377.7 1361.0,1377.2 1361.5,1377.0 1362.0,1364.1 1362.5,1370.3 1363.0,1369.0 1363.5,1373.8 1364.0,1367.2 1364.5,1367.6 1365.0,1364.1 1365.5,1363.1 1366.0,1363.6 1366.5,1371.7 1367.0,1354.4 1367.5,1354.2 1368.0,1366.2 1368.5,1361.8 1369.0,1365.6 1369.5,1364.6 1370.0,1359.5 1370.5,1358.0 1371.0,1356.2 1371.5,1357.5 1372.0,1346.4 1372.5,1354.6 1373.0,1358.2 1373.5,1345.0 1374.0,1342.2 1374.5,1339.0 1375.0,1342.5 1375.5,1339.7 1376.0,1340.9 1376.5,1333.9 1377.0,1327.7 1377.5,1327.0 1378.0,1314.3 1378.5,1323.0 1379.0,1318.5 1379.5,1327.7 1380.0,1321.5 1380.5,1306.5 1381.0,1306.5 1381.5,1314.0 1382.0,1294.5 1382.5,1300.2 1383.0,1307.0 1383.5,1307.8 1384.0,1304.4 1384.5,1310.2 1385.0,1301.5 1385.5,1304.4 1386.0,1303.5 1386.5,1289.7 1387.0,1307.4 1387.5,1305.2 1388.0,1310.5 1388.5,1295.9 1389.0,1314.5 1389.5,1313.1 1390.0,1315.5 1390.5,1322.2 1391.0,1322.1 1391.5,1332.8 1392.0,1337.0 1392.5,1337.3 1393.0,1340.0 1393.5,1339.1 1394.0,1339.6 1394.5,1334.9 1395.0,1342.1 1395.5,1352.6 1396.0,1352.4 1396.5,1348.0 1397.0,1353.0 1397.5,1359.6 1398.0,1355.2 1398.5,1376.3 1399.0,1355.7 1399.5,1364.9 1400.0,1366.1 1400.5,1365.3 1401.0,1367.6 1401.5,1370.3 1402.0,1359.1 1402.5,1373.1 1403.0,1377.5 1403.5,1375.5 1404.0,1387.0 1404.5,1370.9 1405.0,1376.7 1405.5,1379.2 1406.0,1377.3 1406.5,1383.9 1407.0,1381.1 1407.5,1376.9 1408.0,1382.7 1408.5,1382.8 1409.0,1377.6 1409.5,1382.2 1410.0,1381.2 1410.5,1381.2 1411.0,1367.1 1411.5,1392.9 1412.0,1382.7 1412.5,1379.9 1413.0,1381.6 1413.5,1381.6 1414.0,1379.0 1414.5,1377.9 1415.0,1380.9 1415.5,1378.0 1416.0,1378.5 1416.5,1375.7 1417.0,1379.5 1417.5,1385.0 1418.0,1381.7 1418.5,1381.1 1419.0,1379.6 1419.5,1379.2 1420.0,1374.8 1420.5,1388.1 1421.0,1378.1 1421.5,1374.9 1422.0,1382.9 1422.5,1382.4 1423.0,1379.2 1423.5,1375.2 1424.0,1375.6 1424.5,1388.0 1425.0,1381.0 1425.5,1378.8 1426.0,1389.4 1426.5,1379.3 1427.0,1377.8 1427.5,1383.9 1428.0,1383.2 1428.5,1388.3 1429.0,1375.2 1429.5,1383.0 1430.0,1374.7 1430.5,1383.7 1431.0,1379.1 1431.5,1379.9 1432.0,1378.8 1432.5,1385.4 1433.0,1388.7 1433.5,1381.6 1434.0,1380.9 1434.5,1379.8 1435.0,1384.1 1435.5,1377.7 1436.0,1396.8 1436.5,1381.0 1437.0,1389.1 1437.5,1382.6 1438.0,1376.3 1438.5,1366.3 1439.0,1380.2 1439.5,1379.0 1440.0,1380.9 1440.5,1370.4 1441.0,1391.8 1441.5,1390.8 1442.0,1374.4 1442.5,1384.0 1443.0,1386.9 1443.5,1380.5 1444.0,1381.0 1444.5,1386.5 1445.0,1384.2 1445.5,1376.8 1446.0,1387.0 1446.5,1379.8 1447.0,1389.6 1447.5,1377.9 1448.0,1372.3 1448.5,1382.3 1449.0,1386.9 1449.5,1384.0 1450.0,1382.5 1450.5,1377.9 1451.0,1385.6 1451.5,1374.0 1452.0,1385.1 1452.5,1376.7 1453.0,1379.2 1453.5,1376.1 1454.0,1377.8 1454.5,1387.9 1455.0,1376.7 1455.5,1382.4 1456.0,1378.2 1456.5,1385.8 1457.0,1375.8 1457.5,1381.5 1458.0,1385.3 1458.5,1390.9 1459.0,1376.4 1459.5,1377.7 1460.0,1381.2 1460.5,1387.6 1461.0,1377.0 1461.5,1384.7 1462.0,1378.6 1462.5,1376.9 1463.0,1374.5 1463.5,1381.7 1464.0,1385.3 1464.5,1380.7 1465.0,1372.1 1465.5,1378.7 1466.0,1385.1 1466.5,1384.7 1467.0,1382.1 1467.5,1395.5 1468.0,1375.5 1468.5,1375.7 1469.0,1390.9 1469.5,1383.7 1470.0,1379.9 1470.5,1378.7 1471.0,1369.8 1471.5,1384.2 1472.0,1371.9 1472.5,1365.0 1473.0,1380.4 1473.5,1386.9 1474.0,1378.8 1474.5,1382.1 1475.0,1378.6 1475.5,1382.1 1476.0,1373.3 1476.5,1389.3 1477.0,1376.2 1477.5,1385.5 1478.0,1371.5 1478.5,1387.7 1479.0,1382.0 1479.5,1388.6 1480.0,1377.2 1480.5,1384.4 1481.0,1379.2 1481.5,1379.7 1482.0,1385.5 1482.5,1376.0 1483.0,1383.0 1483.5,1388.1 1484.0,1387.2 1484.5,1384.2 1485.0,1381.0 1485.5,1375.4 1486.0,1385.6 1486.5,1376.4 1487.0,1384.3 1487.5,1377.6 1488.0,1378.9 1488.5,1378.3 1489.0,1381.0 1489.5,1376.3 1490.0,1378.7 1490.5,1375.4 1491.0,1379.7 1491.5,1378.4 1492.0,1378.8 1492.5,1372.9 1493.0,1377.7 1493.5,1376.2 1494.0,1378.3 1494.5,1375.6 1495.0,1370.8 1495.5,1377.9 1496.0,1371.4 1496.5,1375.3 1497.0,1364.5 1497.5,1378.5 1498.0,1379.9 1498.5,1368.6 1499.0,1375.0 1499.5,1370.4 1500.0,1378.0 1500.5,1374.4 1501.0,1365.4 1501.5,1369.8 1502.0,1362.3 1502.5,1368.5 1503.0,1372.0 1503.5,1372.9 1504.0,1368.1 1504.5,1367.0 1505.0,1368.4 1505.5,1364.4 1506.0,1368.2 1506.5,1371.5 1507.0,1366.7 1507.5,1369.3 1508.0,1355.7 1508.5,1362.0 1509.0,1365.5 1509.5,1381.3 1510.0,1367.8 1510.5,1370.7 1511.0,1362.4 1511.5,1367.6 1512.0,1353.2 1512.5,1366.8 1513.0,1350.5 1513.5,1366.2 1514.0,1362.3 1514.5,1373.1 1515.0,1361.3 1515.5,1356.6 1516.0,1350.0 1516.5,1360.5 1517.0,1365.3 1517.5,1360.8 1518.0,1354.7 1518.5,1354.3 1519.0,1353.4 1519.5,1355.6 1520.0,1356.0 1520.5,1353.9 1521.0,1356.2 1521.5,1348.3 1522.0,1363.7 1522.5,1357.3 1523.0,1363.6 1523.5,1357.6 1524.0,1355.3 1524.5,1356.9 1525.0,1357.7 1525.5,1353.6 1526.0,1352.7 1526.5,1366.7 1527.0,1362.2 1527.5,1355.4 1528.0,1360.8 1528.5,1354.5 1529.0,1365.7 1529.5,1354.4 1530.0,1364.0 1530.5,1360.2 1531.0,1360.6 1531.5,1357.0 1532.0,1360.1 1532.5,1358.1 1533.0,1352.5 1533.5,1364.8 1534.0,1375.0 1534.5,1362.0 1535.0,1375.4 1535.5,1364.4 1536.0,1361.6 1536.5,1371.6 1537.0,1373.1 1537.5,1371.6 1538.0,1367.3 1538.5,1369.0 1539.0,1363.9 1539.5,1366.8 1540.0,1376.1 1540.5,1358.5 1541.0,1371.0 1541.5,1376.2 1542.0,1373.5 1542.5,1374.2 1543.0,1369.4 1543.5,1375.9 1544.0,1376.3 1544.5,1371.2 1545.0,1388.3 1545.5,1369.8 1546.0,1361.2 1546.5,1372.4 1547.0,1372.2 1547.5,1369.2 1548.0,1371.2 1548.5,1371.1 1549.0,1365.7 1549.5,1379.4 1550.0,1374.2 1550.5,1390.8 1551.0,1374.6 1551.5,1376.7 1552.0,1368.7 1552.5,1386.2 1553.0,1371.0 1553.5,1378.3 1554.0,1380.2 1554.5,1384.5 1555.0,1373.1 1555.5,1373.5 1556.0,1380.4 1556.5,1382.4 1557.0,1383.8 1557.5,1377.7 1558.0,1377.1 1558.5,1385.9 1559.0,1376.0 1559.5,1381.9 1560.0,1377.6 1560.5,1373.1 1561.0,1374.6 1561.5,1381.4 1562.0,1380.6 1562.5,1382.0 1563.0,1376.7 1563.5,1378.2 1564.0,1381.6 1564.5,1379.9 1565.0,1374.1 1565.5,1379.2 1566.0,1388.2 1566.5,1378.1 1567.0,1383.7 1567.5,1381.3 1568.0,1384.8 1568.5,1378.3 1569.0,1376.8 1569.5,1384.0 1570.0,1379.4 1570.5,1382.2 1571.0,1381.2 1571.5,1386.5 1572.0,1383.7 1572.5,1383.4 1573.0,1378.9 1573.5,1376.6 1574.0,1379.6 1574.5,1386.5 1575.0,1390.0 1575.5,1385.6 1576.0,1381.7 1576.5,1379.3 1577.0,1388.1 1577.5,1385.4 1578.0,1388.8 1578.5,1379.9 1579.0,1381.0 1579.5,1386.4 1580.0,1386.9 1580.5,1379.9 1581.0,1385.2 1581.5,1379.4 1582.0,1389.1 1582.5,1386.9 1583.0,1393.4 1583.5,1390.4 1584.0,1381.8 1584.5,1385.3 1585.0,1382.7 1585.5,1385.2 1586.0,1387.8 1586.5,1384.7 1587.0,1385.1 1587.5,1379.5 1588.0,1390.5 1588.5,1384.9 1589.0,1387.5 1589.5,1389.3 1590.0,1385.3 1590.5,1388.0 1591.0,1382.9 1591.5,1389.1 1592.0,1385.3 1592.5,1383.1 1593.0,1384.6 1593.5,1379.9 1594.0,1379.4 1594.5,1384.0 1595.0,1385.8 1595.5,1385.4 1596.0,1383.3 1596.5,1385.1 1597.0,1377.5 1597.5,1386.3 1598.0,1388.2 1598.5,1389.1 1599.0,1390.3 1599.5,1385.3 1600.0,1385.8 1600.5,1384.3 1601.0,1384.3 1601.5,1386.7 1602.0,1391.6 1602.5,1379.7 1603.0,1384.4 1603.5,1387.5 1604.0,1382.5 1604.5,1388.1 1605.0,1381.1 1605.5,1385.1 1606.0,1380.1 1606.5,1387.6 1607.0,1379.1 1607.5,1389.1 1608.0,1385.5 1608.5,1382.9 1609.0,1385.0 1609.5,1387.7 1610.0,1386.6 1610.5,1384.1 1611.0,1385.4 1611.5,1386.7 1612.0,1390.0 1612.5,1384.5 1613.0,1388.5 1613.5,1381.7 1614.0,1390.4 1614.5,1388.2 1615.0,1385.5 1615.5,1385.6 1616.0,1380.3 1616.5,1387.2 1617.0,1384.4 1617.5,1381.5 1618.0,1385.2 1618.5,1389.1 1619.0,1387.6 1619.5,1387.9 1620.0,1384.7 1620.5,1390.1 1621.0,1386.7 1621.5,1390.1 1622.0,1395.3 1622.5,1379.0 1623.0,1384.8 1623.5,1386.7 1624.0,1383.8 1624.5,1390.5 1625.0,1383.1 1625.5,1392.9 1626.0,1389.3 1626.5,1387.9 1627.0,1386.1 1627.5,1389.4 1628.0,1390.5 1628.5,1391.6 1629.0,1387.4 1629.5,1389.7 1630.0,1387.2 1630.5,1386.8 1631.0,1379.3 1631.5,1385.2 1632.0,1386.6 1632.5,1380.4 1633.0,1379.4 1633.5,1383.4 1634.0,1385.6 1634.5,1377.6 1635.0,1385.4 1635.5,1387.8 1636.0,1382.8 1636.5,1384.6 1637.0,1385.3 1637.5,1380.6 1638.0,1385.5 1638.5,1384.7 1639.0,1377.7 1639.5,1384.5 1640.0,1385.8 1640.5,1377.7 1641.0,1385.3 1641.5,1380.6 1642.0,1376.0 1642.5,1377.0 1643.0,1372.4 1643.5,1382.9 1644.0,1378.5 1644.5,1378.7 1645.0,1374.9 1645.5,1379.8 1646.0,1374.2 1646.5,1376.0 1647.0,1380.7 1647.5,1380.2 1648.0,1374.5 1648.5,1375.7 1649.0,1377.3 1649.5,1374.2 1650.0,1378.5 1650.5,1378.3 1651.0,1371.4 1651.5,1365.7 1652.0,1369.6 1652.5,1375.5 1653.0,1374.0 1653.5,1373.8 1654.0,1373.2 1654.5,1365.8 1655.0,1369.2 1655.5,1372.9 1656.0,1369.4 1656.5,1372.4 1657.0,1364.4 1657.5,1363.9 1658.0,1378.5 1658.5,1373.6 1659.0,1373.5 1659.5,1377.8 1660.0,1381.7 1660.5,1385.2 1661.0,1363.3 1661.5,1375.8 1662.0,1379.2 1662.5,1367.4 1663.0,1368.6 1663.5,1376.0 1664.0,1385.1 1664.5,1381.6 1665.0,1393.8 1665.5,1379.6 1666.0,1383.2 1666.5,1385.4 1667.0,1381.3 1667.5,1379.6 1668.0,1380.5 1668.5,1364.7 1669.0,1381.9 1669.5,1373.3 1670.0,1377.8 1670.5,1384.2 1671.0,1383.2 1671.5,1373.8 1672.0,1384.2 1672.5,1385.4 1673.0,1383.4 1673.5,1385.6 1674.0,1385.3 1674.5,1376.5 1675.0,1381.5 1675.5,1380.9 1676.0,1379.2 1676.5,1384.1 1677.0,1381.3 1677.5,1384.4 1678.0,1381.6 1678.5,1389.3 1679.0,1394.2 1679.5,1383.5 1680.0,1386.2 1680.5,1386.6 1681.0,1388.4 1681.5,1386.3 1682.0,1378.7 1682.5,1388.9 1683.0,1387.4 1683.5,1378.2 1684.0,1387.7 1684.5,1386.8 1685.0,1390.0 1685.5,1388.1 1686.0,1388.6 1686.5,1390.3 1687.0,1391.1 1687.5,1390.5 1688.0,1395.2 1688.5,1391.8 1689.0,1388.1 1689.5,1405.9 1690.0,1391.9 1690.5,1397.6 1691.0,1387.6 1691.5,1393.9 1692.0,1398.5 1692.5,1396.8 1693.0,1392.3 1693.5,1389.7 1694.0,1389.6 1694.5,1391.2 1695.0,1388.2 1695.5,1389.1 1696.0,1388.1 1696.5,1388.1 1697.0,1392.8 1697.5,1385.1 1698.0,1392.5 1698.5,1394.5 1699.0,1388.3 1699.5,1388.4 1700.0,1392.0 1700.5,1391.7 1701.0,1395.5 1701.5,1384.3 1702.0,1391.6 1702.5,1397.3 1703.0,1392.2 1703.5,1398.7 1704.0,1400.3 1704.5,1389.8 1705.0,1397.7 1705.5,1396.6 1706.0,1391.9 1706.5,1390.8 1707.0,1391.1 1707.5,1388.4 1708.0,1391.3 1708.5,1395.5 1709.0,1396.7 1709.5,1390.5 1710.0,1394.0 1710.5,1393.8 1711.0,1382.9 1711.5,1398.4 1712.0,1387.2 1712.5,1387.5 1713.0,1395.1 1713.5,1398.3 1714.0,1387.7 1714.5,1388.5 1715.0,1388.3 1715.5,1389.9 1716.0,1390.4 1716.5,1388.7 1717.0,1385.7 1717.5,1398.6 1718.0,1390.0 1718.5,1389.0 1719.0,1395.3 1719.5,1390.5 1720.0,1396.0 1720.5,1394.9 1721.0,1395.6 1721.5,1390.3 1722.0,1394.3 1722.5,1385.9 1723.0,1386.6 1723.5,1392.1 1724.0,1390.7 1724.5,1397.0 1725.0,1390.8 1725.5,1385.1 1726.0,1392.1 1726.5,1390.7 1727.0,1392.6 1727.5,1387.4 1728.0,1388.9 1728.5,1392.1 1729.0,1394.7 1729.5,1393.4 1730.0,1394.7 1730.5,1386.3 1731.0,1391.0 1731.5,1392.7 1732.0,1395.5 1732.5,1392.9 1733.0,1391.0 1733.5,1391.4 1734.0,1391.5 1734.5,1386.4 1735.0,1392.1 1735.5,1394.9 1736.0,1394.6 1736.5,1384.8 1737.0,1391.9 1737.5,1386.2 1738.0,1396.0 1738.5,1393.9 1739.0,1394.6 1739.5,1389.3 1740.0,1384.5 1740.5,1382.3 1741.0,1390.5 1741.5,1386.2 1742.0,1388.0 1742.5,1398.5 1743.0,1386.8 1743.5,1393.9 1744.0,1384.8 1744.5,1392.8 1745.0,1395.0 1745.5,1393.5 1746.0,1396.4 1746.5,1406.3 1747.0,1386.6 1747.5,1392.8 1748.0,1393.8 1748.5,1393.5 1749.0,1397.9 1749.5,1392.9 1750.0,1396.4 1750.5,1396.3 1751.0,1392.4 1751.5,1394.0 1752.0,1389.0 1752.5,1393.1 1753.0,1392.6 1753.5,1391.3 1754.0,1390.2 1754.5,1395.6 1755.0,1391.5 1755.5,1406.2 1756.0,1396.9 1756.5,1394.8 1757.0,1389.7 1757.5,1395.4 1758.0,1392.5 1758.5,1392.3 1759.0,1387.8 1759.5,1394.1 1760.0,1392.9 1760.5,1390.2 1761.0,1389.4 1761.5,1390.9 1762.0,1386.9 1762.5,1389.9 1763.0,1397.2 1763.5,1389.5 1764.0,1400.7 1764.5,1386.9 1765.0,1396.0 1765.5,1396.0 1766.0,1396.3 1766.5,1394.1 1767.0,1385.8 1767.5,1396.2 1768.0,1395.9 1768.5,1392.1 1769.0,1383.0 1769.5,1401.9 1770.0,1388.4 1770.5,1390.8 1771.0,1396.5 1771.5,1396.9 1772.0,1393.3 1772.5,1389.7 1773.0,1398.3 1773.5,1402.6 1774.0,1391.2 1774.5,1388.2 1775.0,1394.7 1775.5,1386.7 1776.0,1398.5 1776.5,1393.7 1777.0,1390.4 1777.5,1393.3 1778.0,1385.4 1778.5,1391.5 1779.0,1389.3 1779.5,1385.7 1780.0,1389.3 1780.5,1393.0 1781.0,1386.3 1781.5,1390.9 1782.0,1386.1 1782.5,1392.4 1783.0,1385.0 1783.5,1394.3 1784.0,1394.1 1784.5,1399.2 1785.0,1398.4 1785.5,1393.2 1786.0,1392.0 1786.5,1393.8 1787.0,1389.8 1787.5,1384.3 1788.0,1386.9 1788.5,1386.9 1789.0,1392.2 1789.5,1385.7 1790.0,1390.0 1790.5,1393.6 1791.0,1392.2 1791.5,1399.0 1792.0,1391.3 1792.5,1387.9 1793.0,1396.2 1793.5,1387.7 1794.0,1391.2 1794.5,1395.2 1795.0,1392.1 1795.5,1394.0 1796.0,1389.1 1796.5,1390.3 1797.0,1393.8 1797.5,1389.4 1798.0,1389.9 1798.5,1391.3 1799.0,1405.6 1799.5,1397.0 1800.0,1392.3 1800.5,1392.3 1801.0,1388.8 1801.5,1396.5 1802.0,1393.0 1802.5,1400.3 1803.0,1386.2 1803.5,1394.5 1804.0,1392.1 1804.5,1394.4 1805.0,1395.4 1805.5,1391.6 1806.0,1390.1 1806.5,1394.1 1807.0,1387.0 1807.5,1396.9 1808.0,1392.8 1808.5,1387.3 1809.0,1396.4 1809.5,1395.2 1810.0,1397.3 1810.5,1395.3 1811.0,1393.4 1811.5,1391.4 1812.0,1387.6 1812.5,1394.4 1813.0,1393.8 1813.5,1390.0 1814.0,1393.8 1814.5,1388.2 1815.0,1395.5 1815.5,1392.1 1816.0,1392.4 1816.5,1388.8 1817.0,1395.1 1817.5,1392.1 1818.0,1389.3 1818.5,1392.9 1819.0,1390.2 1819.5,1401.4 1820.0,1385.7 1820.5,1387.1 1821.0,1399.0 1821.5,1389.5 1822.0,1393.2 1822.5,1389.8 1823.0,1392.1 1823.5,1401.2 1824.0,1383.9 1824.5,1393.3 1825.0,1391.5 1825.5,1391.4 1826.0,1388.3 1826.5,1387.7 1827.0,1396.3 1827.5,1393.1 1828.0,1386.7 1828.5,1391.2 1829.0,1379.6 1829.5,1405.1 1830.0,1392.6 1830.5,1384.4 1831.0,1394.6 1831.5,1393.5 1832.0,1392.3 1832.5,1391.8 1833.0,1389.0 1833.5,1390.3 1834.0,1383.5 1834.5,1395.9 1835.0,1398.6 1835.5,1392.9 1836.0,1393.3 1836.5,1385.9 1837.0,1389.4 1837.5,1385.6 1838.0,1386.0 1838.5,1396.2 1839.0,1396.2 1839.5,1390.7 1840.0,1400.2 1840.5,1394.0 1841.0,1382.4 1841.5,1389.3 1842.0,1402.9 1842.5,1391.4 1843.0,1394.7 1843.5,1384.5 1844.0,1395.6 1844.5,1386.3 1845.0,1392.0 1845.5,1398.7 1846.0,1391.0 1846.5,1389.8 1847.0,1393.6 1847.5,1387.6 1848.0,1387.1 1848.5,1394.3 1849.0,1385.1 1849.5,1386.0 1850.0,1397.2 1850.5,1385.9 1851.0,1392.3 1851.5,1394.7 1852.0,1390.3 1852.5,1386.6 1853.0,1393.6 1853.5,1387.0 1854.0,1398.4 1854.5,1398.8 1855.0,1386.6 1855.5,1392.6 1856.0,1387.8 1856.5,1391.9 1857.0,1389.5 1857.5,1386.7 1858.0,1392.3 1858.5,1384.2 1859.0,1391.5 1859.5,1389.8 1860.0,1387.4 1860.5,1393.7 1861.0,1390.5 1861.5,1389.0 1862.0,1389.6 1862.5,1389.4 1863.0,1393.7 1863.5,1389.1 1864.0,1379.4 1864.5,1378.6 1865.0,1386.2 1865.5,1385.4 1866.0,1387.8 1866.5,1385.0 1867.0,1387.1 1867.5,1395.0 1868.0,1385.1 1868.5,1397.8 1869.0,1389.6 1869.5,1394.9 1870.0,1393.3 1870.5,1390.1 1871.0,1393.9 1871.5,1390.7 1872.0,1385.6 1872.5,1391.6 1873.0,1391.6 1873.5,1389.2 1874.0,1390.5 1874.5,1387.9 1875.0,1390.7 1875.5,1388.3 1876.0,1383.5 1876.5,1388.2 1877.0,1395.1 1877.5,1392.1 1878.0,1394.5 1878.5,1388.8 1879.0,1387.2 1879.5,1384.7 1880.0,1389.1 1880.5,1392.2 1881.0,1391.4 1881.5,1391.0 1882.0,1386.2 1882.5,1388.4 1883.0,1385.0 1883.5,1390.8 1884.0,1389.9 1884.5,1385.1 1885.0,1387.8 1885.5,1378.7 1886.0,1389.8 1886.5,1383.9 1887.0,1383.8 1887.5,1389.0 1888.0,1389.1 1888.5,1383.9 1889.0,1392.3 1889.5,1393.8 1890.0,1391.6 1890.5,1390.9 1891.0,1386.0 1891.5,1391.0 1892.0,1382.2 1892.5,1381.2 1893.0,1385.9 1893.5,1386.2 1894.0,1381.8 1894.5,1391.7 1895.0,1379.2 1895.5,1376.8 1896.0,1383.0 1896.5,1390.7 1897.0,1387.2 1897.5,1385.6 1898.0,1385.7 1898.5,1386.2 1899.0,1385.1 1899.5,1384.2 1900.0,1383.2 1900.5,1377.4 1901.0,1387.2 1901.5,1379.6 1902.0,1384.7 1902.5,1385.1 1903.0,1387.1 1903.5,1380.0 1904.0,1390.8 1904.5,1386.1 1905.0,1382.4 1905.5,1382.5 1906.0,1384.2 1906.5,1378.6 1907.0,1380.7 1907.5,1372.1 1908.0,1387.0 1908.5,1375.3 1909.0,1378.1 1909.5,1382.9 1910.0,1384.3 1910.5,1380.8 1911.0,1378.5 1911.5,1383.8 1912.0,1385.4 1912.5,1375.8 1913.0,1385.6 1913.5,1375.2 1914.0,1384.7 1914.5,1380.5 1915.0,1381.3 1915.5,1385.1 1916.0,1388.1 1916.5,1390.7 1917.0,1388.0 1917.5,1385.5 1918.0,1377.9 1918.5,1381.7 1919.0,1384.8 1919.5,1381.3 1920.0,1386.1 1920.5,1383.1 1921.0,1398.6 1921.5,1383.8 1922.0,1379.9 1922.5,1383.0 1923.0,1382.5 1923.5,1388.1 1924.0,1391.0 1924.5,1395.3 1925.0,1390.1 1925.5,1383.9 1926.0,1382.6 1926.5,1384.0 1927.0,1387.4 1927.5,1386.3 1928.0,1388.8 1928.5,1391.8 1929.0,1388.6 1929.5,1394.8 1930.0,1385.8 1930.5,1391.3 1931.0,1388.9 1931.5,1393.0 1932.0,1389.3 1932.5,1387.7 1933.0,1389.3 1933.5,1386.6 1934.0,1385.9 1934.5,1393.0 1935.0,1387.9 1935.5,1394.7 1936.0,1399.5 1936.5,1389.0 1937.0,1393.6 1937.5,1390.2 1938.0,1383.5 1938.5,1390.2 1939.0,1396.1 1939.5,1386.2 1940.0,1390.1 1940.5,1390.1 1941.0,1385.5 1941.5,1392.1 1942.0,1390.4 1942.5,1393.1 1943.0,1391.6 1943.5,1385.9 1944.0,1391.6 1944.5,1393.5 1945.0,1389.1 1945.5,1396.3 1946.0,1393.3 1946.5,1377.4 1947.0,1393.7 1947.5,1384.0 1948.0,1386.7 1948.5,1391.0 1949.0,1387.9 1949.5,1388.6 1950.0,1395.6 1950.5,1387.6 1951.0,1396.0 1951.5,1398.4 1952.0,1396.8 1952.5,1387.6 1953.0,1386.1 1953.5,1392.0 1954.0,1399.5 1954.5,1391.0 1955.0,1389.7 1955.5,1391.3 1956.0,1394.6 1956.5,1396.2 1957.0,1391.8 1957.5,1391.4 1958.0,1393.7 1958.5,1392.0 1959.0,1388.1 1959.5,1385.4 1960.0,1392.3 1960.5,1389.7 1961.0,1391.0 1961.5,1390.8 1962.0,1388.6 1962.5,1396.6 1963.0,1395.8 1963.5,1396.4 1964.0,1389.5 1964.5,1392.5 1965.0,1394.4 1965.5,1391.5 1966.0,1394.4 1966.5,1386.7 1967.0,1391.1 1967.5,1397.2 1968.0,1395.5 1968.5,1391.4 1969.0,1392.3 1969.5,1399.8 1970.0,1395.9 1970.5,1389.3 1971.0,1393.1 1971.5,1390.3 1972.0,1386.6 1972.5,1387.5 1973.0,1394.6 1973.5,1400.1 1974.0,1395.1 1974.5,1387.2 1975.0,1393.9 1975.5,1386.6 1976.0,1392.8 1976.5,1395.8 1977.0,1397.4 1977.5,1392.4 1978.0,1393.2 1978.5,1392.0 1979.0,1391.4 1979.5,1397.7 1980.0,1388.5 1980.5,1386.2 1981.0,1405.9 1981.5,1400.3 1982.0,1386.2 1982.5,1395.4 1983.0,1395.0 1983.5,1390.5 1984.0,1388.5 1984.5,1392.6 1985.0,1390.8 1985.5,1395.0 1986.0,1389.7 1986.5,1396.3 1987.0,1389.7 1987.5,1398.0 1988.0,1395.3 1988.5,1396.2 1989.0,1390.6 1989.5,1391.2 1990.0,1391.2 1990.5,1396.3 1991.0,1389.6 1991.5,1389.2 1992.0,1391.2 1992.5,1393.3 1993.0,1391.7 1993.5,1391.8 1994.0,1387.2 1994.5,1389.8 1995.0,1388.1 1995.5,1395.8 1996.0,1391.9 1996.5,1394.5 1997.0,1380.5 1997.5,1391.9 1998.0,1395.3 1998.5,1388.2 1999.0,1389.6 1999.5,1390.1 2000.0,1392.5 2000.5,1393.0 2001.0,1386.8 2001.5,1393.2 2002.0,1392.8 2002.5,1394.5 2003.0,1388.8 2003.5,1391.7 2004.0,1396.6 2004.5,1396.2 2005.0,1389.8 2005.5,1397.8 2006.0,1390.5 2006.5,1384.1 2007.0,1396.1 2007.5,1393.2 2008.0,1400.3 2008.5,1391.1 2009.0,1392.5 2009.5,1394.7 2010.0,1392.9 2010.5,1390.5 2011.0,1392.0 2011.5,1391.9 2012.0,1391.9 2012.5,1391.9 2013.0,1386.4 2013.5,1395.2 2014.0,1389.7 2014.5,1391.1 2015.0,1389.1 2015.5,1390.2 2016.0,1395.5 2016.5,1396.6 2017.0,1393.2 2017.5,1392.6 2018.0,1390.1 2018.5,1391.0 2019.0,1392.9 2019.5,1391.4 2020.0,1388.4 2020.5,1392.2 2021.0,1388.2 2021.5,1399.5 2022.0,1393.1 2022.5,1389.9 2023.0,1393.7 2023.5,1389.3 2024.0,1391.1 2024.5,1405.5 2025.0,1396.7 2025.5,1387.7 2026.0,1387.9 2026.5,1390.1 2027.0,1400.2 2027.5,1392.2 2028.0,1394.3 2028.5,1387.6 2029.0,1396.8 2029.5,1395.5 2030.0,1378.2 2030.5,1388.9 2031.0,1385.4 2031.5,1387.8 2032.0,1389.0 2032.5,1387.2 2033.0,1389.7 2033.5,1394.5 2034.0,1396.1 2034.5,1392.4 2035.0,1394.6 2035.5,1387.1 2036.0,1397.3 2036.5,1400.3 2037.0,1391.5 2037.5,1394.1 2038.0,1395.1 2038.5,1384.1 2039.0,1395.7 2039.5,1393.7 2040.0,1386.1 2040.5,1390.5 2041.0,1396.2 2041.5,1394.1 2042.0,1387.0 2042.5,1389.9 2043.0,1389.5 2043.5,1392.5 2044.0,1389.4 2044.5,1392.4 2045.0,1391.4 2045.5,1386.6 2046.0,1393.5 2046.5,1392.9 2047.0,1389.5 2047.5,1398.4 2048.0,1405.7 2048.5,1386.2 2049.0,1393.9 2049.5,1395.0 2050.0,1392.1 2050.5,1389.9 2051.0,1399.9 2051.5,1390.2 2052.0,1391.5 2052.5,1389.6 2053.0,1396.4 2053.5,1384.2 2054.0,1388.7 2054.5,1390.3 2055.0,1393.1 2055.5,1393.2 2056.0,1395.6 2056.5,1391.5 2057.0,1389.3 2057.5,1391.4 2058.0,1388.8 2058.5,1390.0 2059.0,1390.2 2059.5,1393.1 2060.0,1395.0 2060.5,1388.0 2061.0,1389.8 2061.5,1391.7 2062.0,1392.0 2062.5,1391.1 2063.0,1394.1 2063.5,1391.2 2064.0,1385.7 2064.5,1396.7 2065.0,1387.5 2065.5,1397.9 2066.0,1394.2 2066.5,1393.2 2067.0,1386.7 2067.5,1393.0 2068.0,1391.2 2068.5,1389.0 2069.0,1396.7 2069.5,1394.7 2070.0,1396.3 2070.5,1387.6 2071.0,1389.2 2071.5,1404.0 2072.0,1393.9 2072.5,1399.0"/>
<polyline stroke="#ff0000" stroke-width="1.4" points="598.0,648.7 598.5,645.0 599.0,640.7 599.5,635.7 600.0,630.0 600.5,622.7 601.0,613.4 601.5,602.2 602.0,589.4 602.5,575.2 603.0,560.0 603.5,541.5 604.0,519.0 604.5,494.4 605.0,470.0 605.5,445.9 606.0,421.1 606.5,395.7 607.0,370.0 607.5,344.0 608.0,317.5 608.5,290.0 609.0,261.1 609.5,231.0 610.0,200.0 610.5,159.4 611.0,134.5 611.5,159.9 612.0,200.0 612.5,228.5 613.0,255.1 613.5,280.3 614.0,304.2 614.5,327.0 615.0,348.8 615.5,370.0 616.0,390.1 616.5,409.5 617.0,430.0 617.5,453.2 618.0,477.5 618.5,500.0 619.0,520.6 619.5,540.8 620.0,559.7 620.5,576.4 621.0,590.0 621.5,601.5 622.0,612.1 622.5,621.7 623.0,630.0 623.5,636.8 624.0,642.0 624.5,646.1 625.0,649.7 625.5,652.9 626.0,655.8 626.5,658.3 627.0,660.5 627.5,662.4 628.0,664.0 628.5,665.5 629.0,666.9 629.5,668.2 630.0,669.5 630.5,670.5 631.0,671.3 631.5,671.8 632.0,672.0 632.5,672.0 633.0,671.9 633.5,671.8 634.0,671.6 634.5,671.4 635.0,671.2 635.5,670.9 636.0,670.6 636.5,670.3 637.0,670.0 637.5,669.6 638.0,669.0 638.5,668.2 639.0,667.2 639.5,666.2 640.0,664.9 640.5,663.5 641.0,662.0 641.5,659.9 642.0,657.1 642.5,653.7 643.0,650.0 643.5,645.8 644.0,640.9 644.5,635.5 645.0,630.0 645.5,624.2 646.0,618.0 646.5,611.6 647.0,605.0 647.5,598.5 648.0,591.9 648.5,585.1 649.0,577.9 649.5,570.0 650.0,561.0 650.5,550.8 651.0,540.2 651.5,529.7 652.0,520.0 652.5,510.8 653.0,501.7 653.5,492.8 654.0,484.4 654.5,476.8 655.0,470.0 655.5,463.6 656.0,456.9 656.5,450.4 657.0,444.3 657.5,439.0 658.0,434.8 658.5,432.0 659.0,431.0 659.5,435.6 660.0,447.3 660.5,463.1 661.0,480.0 661.5,502.1 662.0,530.8 662.5,559.1 663.0,580.0 663.5,593.8 664.0,605.6 664.5,616.0 665.0,625.2 665.5,633.7 666.0,641.8 666.5,650.0 667.0,658.6 667.5,667.5 668.0,676.3 668.5,684.3"/>
<polyline stroke="#000" stroke-width="1.4" points="598.0,1285.6 598.5,1279.9 599.0,1274.0 599.5,1267.9 600.0,1261.5 600.5,1254.3 601.0,1246.0 601.5,1236.4 602.0,1225.0 602.5,1208.0 603.0,1183.9 603.5,1156.3 604.0,1128.6 604.5,1104.2 605.0,1084.4 605.5,1066.2 606.0,1049.1 606.5,1032.6 607.0,1016.4 607.5,1000.0 608.0,983.5 608.5,967.2 609.0,951.1 609.5,935.4 610.0,920.0 610.5,903.1 611.0,884.2 611.5,865.6 612.0,849.6 612.5,838.3 613.0,834.0 613.5,844.1 614.0,868.0 614.5,896.4 615.0,920.0 615.5,936.0 616.0,949.5 616.5,962.5 617.0,977.1 617.5,995.6 618.0,1024.7 618.5,1065.2 619.0,1100.0 619.5,1124.0 620.0,1144.5 620.5,1162.7 621.0,1180.0 621.5,1196.9 622.0,1212.9 622.5,1227.5 623.0,1240.0 623.5,1251.3 624.0,1262.2 624.5,1271.9 625.0,1279.7 625.5,1285.0 626.0,1288.5 626.5,1291.5 627.0,1294.1 627.5,1296.3 628.0,1298.2 628.5,1300.0 629.0,1301.7 629.5,1303.3 630.0,1305.0 630.5,1306.8 631.0,1308.7 631.5,1310.6 632.0,1312.5 632.5,1314.4 633.0,1316.1 633.5,1317.7 634.0,1319.1 634.5,1320.3 635.0,1321.2 635.5,1321.8 636.0,1322.0 636.5,1321.8 637.0,1321.1 637.5,1320.1 638.0,1318.7 638.5,1317.2 639.0,1315.4 639.5,1313.6 640.0,1311.7 640.5,1309.8 641.0,1308.0 641.5,1306.3 642.0,1304.6 642.5,1302.8 643.0,1300.8 643.5,1298.6 644.0,1296.1 644.5,1293.3 645.0,1290.0 645.5,1285.4 646.0,1279.1 646.5,1271.5 647.0,1263.3 647.5,1255.0 648.0,1246.1 648.5,1236.1 649.0,1225.5 649.5,1215.0 650.0,1205.0 650.5,1195.6 651.0,1186.4 651.5,1177.3 652.0,1168.3 652.5,1159.2 653.0,1150.0 653.5,1139.5 654.0,1127.4 654.5,1114.9 655.0,1103.1 655.5,1093.3 656.0,1086.5 656.5,1084.0 657.0,1088.0 657.5,1098.2 658.0,1112.1 658.5,1126.9 659.0,1140.0 659.5,1151.6 660.0,1163.5 660.5,1175.5 661.0,1187.4 661.5,1198.9 662.0,1210.0 662.5,1220.8 663.0,1231.7 663.5,1242.3 664.0,1252.3 664.5,1261.7 665.0,1270.0 665.5,1277.6 666.0,1285.0 666.5,1291.8 667.0,1298.0 667.5,1303.5 668.0,1308.0 668.5,1311.9"/>
</g>
<rect x="173" y="43.0" width="1902" height="1413.5" fill="none" stroke="#000" stroke-width="5"/>
<g stroke="#000" stroke-width="4.2"><line x1="647.3" y1="1456.5" x2="647.3" y2="1430.0"/><line x1="1123.3" y1="1456.5" x2="1123.3" y2="1430.0"/><line x1="1598.6" y1="1456.5" x2="1598.6" y2="1430.0"/><line x1="410.3" y1="1456.5" x2="410.3" y2="1442.5"/><line x1="885.3" y1="1456.5" x2="885.3" y2="1442.5"/><line x1="1361.0" y1="1456.5" x2="1361.0" y2="1442.5"/><line x1="1837.0" y1="1456.5" x2="1837.0" y2="1442.5"/></g>
<g fill="#000"><circle cx="608" cy="66.4" r="10.6"/><polygon points="599.6,116.2 620.4,116.2 610.0,94.6"/><circle cx="658.5" cy="385" r="10.6"/><circle cx="536.4" cy="603.4" r="10.6"/><text class="ast" transform="translate(536.4,650.7) scale(1.08,0.96)">✻</text><polygon points="716.9,640.3 726.4,652.3 716.9,664.3 707.4,652.3"/><text class="ast" transform="translate(751.5,648.2) scale(1.08,0.96)">✻</text><circle cx="962" cy="635.7" r="10.6"/><text class="ast" transform="translate(974.5,661.2) scale(1.08,0.96)">✻</text><circle cx="1202" cy="632.8" r="10.6"/><polygon points="1206.4,665.6 1215.9,677.6 1206.4,689.6 1196.9,677.6"/><text class="ast" transform="translate(1181,694.5) scale(1.08,0.96)">✻</text><circle cx="1382" cy="584.6" r="10.6"/><text class="ast" transform="translate(1384,617.7) scale(1.08,0.96)">✻</text><text class="ast" transform="translate(1484,686.7) scale(1.08,0.96)">✻</text><circle cx="1523" cy="660" r="10.6"/><circle cx="1648.5" cy="641" r="10.6"/><polygon points="1641.5,694.3 1661.5,694.3 1651.5,676.3"/><circle cx="1908.7" cy="692.2" r="10.6"/><circle cx="611.2" cy="761.6" r="10.6"/><polygon points="600.8,813.5 621.2,813.5 611.0,793.0"/><circle cx="655.6" cy="1031.7" r="10.6"/><circle cx="539" cy="1259" r="10.6"/><text class="ast" transform="translate(534,1295.7) scale(1.08,0.96)">✻</text><polygon points="724.7,1286.0 734.2,1298.0 724.7,1310.0 715.2,1298.0"/><text class="ast" transform="translate(756,1296.7) scale(1.08,0.96)">✻</text><circle cx="956.6" cy="1267.6" r="10.6"/><text class="ast" transform="translate(974.5,1298.7) scale(1.08,0.96)">✻</text><circle cx="1206" cy="1280.3" r="10.6"/><polygon points="1204.6,1308.0 1214.1,1320.0 1204.6,1332.0 1195.1,1320.0"/><text class="ast" transform="translate(1178.5,1318.7) scale(1.08,0.96)">✻</text><circle cx="1388" cy="1235" r="10.6"/><text class="ast" transform="translate(1385,1264.7) scale(1.08,0.96)">✻</text><text class="ast" transform="translate(1492.7,1331.7) scale(1.08,0.96)">✻</text><circle cx="1525.5" cy="1277.6" r="10.6"/><circle cx="1657" cy="1277.6" r="10.6"/><polygon points="1649.0,1334.0 1669.0,1334.0 1659.0,1315.0"/><circle cx="1914" cy="1328" r="10.6"/></g>
<text class="tl" x="171.9" y="1526">20</text><text class="tl" x="646.9" y="1526">40</text><text class="tl" x="1122.8" y="1526">60</text><text class="tl" x="1599.0" y="1526">80</text><text class="tl" x="2075.1" y="1526">100</text>
<text x="1052" y="1632" style="font-size:64px;font-weight:bold">2<tspan class="serif" style="font-weight:normal;font-size:60px">θ (°)</tspan></text>
<text transform="translate(72.5,1012.5) rotate(-90)" style="font-size:64.5px;font-weight:bold">Intensity (a.u.)</text>
<circle cx="1216" cy="138.5" r="11.5"/>
<text class="serif" x="1248" y="148.5" style="font-size:57.5px">α</text>
<text x="1280" y="148.5" style="font-size:57.5px" textLength="69" lengthAdjust="spacing">-Ti</text>
<polygon points="1382.3,146.5 1409.2,146.5 1395.75,120.5"/>
<text class="serif" x="1430" y="148" style="font-size:57.5px">β</text>
<text x="1458" y="148" style="font-size:57.5px" textLength="70.5" lengthAdjust="spacing">-Ti</text>
<polygon points="1567.6,116.3 1579.6,131.4 1567.6,146.5 1555.6,131.4"/>
<text x="1599.5" y="148.5" style="font-size:57.5px" textLength="95" lengthAdjust="spacing">TiO</text>
<text class="ast" transform="translate(1223.5,210.4) scale(1.12,0.93)" style="font-size:29px">✻</text>
<text x="1259" y="233" style="font-size:57.5px" textLength="690" lengthAdjust="spacing">Magnetite (Fe+2Fe2+3O4)</text>
<text class="cond" x="1710" y="612">80 N, 20<tspan dx="3" dy="-35" style="font-size:37px">o</tspan><tspan dx="3" dy="35">C</tspan></text>
<text class="cond" x="1671.5" y="1227.4">100 N, 50<tspan dx="3" dy="-35" style="font-size:37px">o</tspan><tspan dx="3" dy="35">C</tspan></text>
</svg>
</body></html>
